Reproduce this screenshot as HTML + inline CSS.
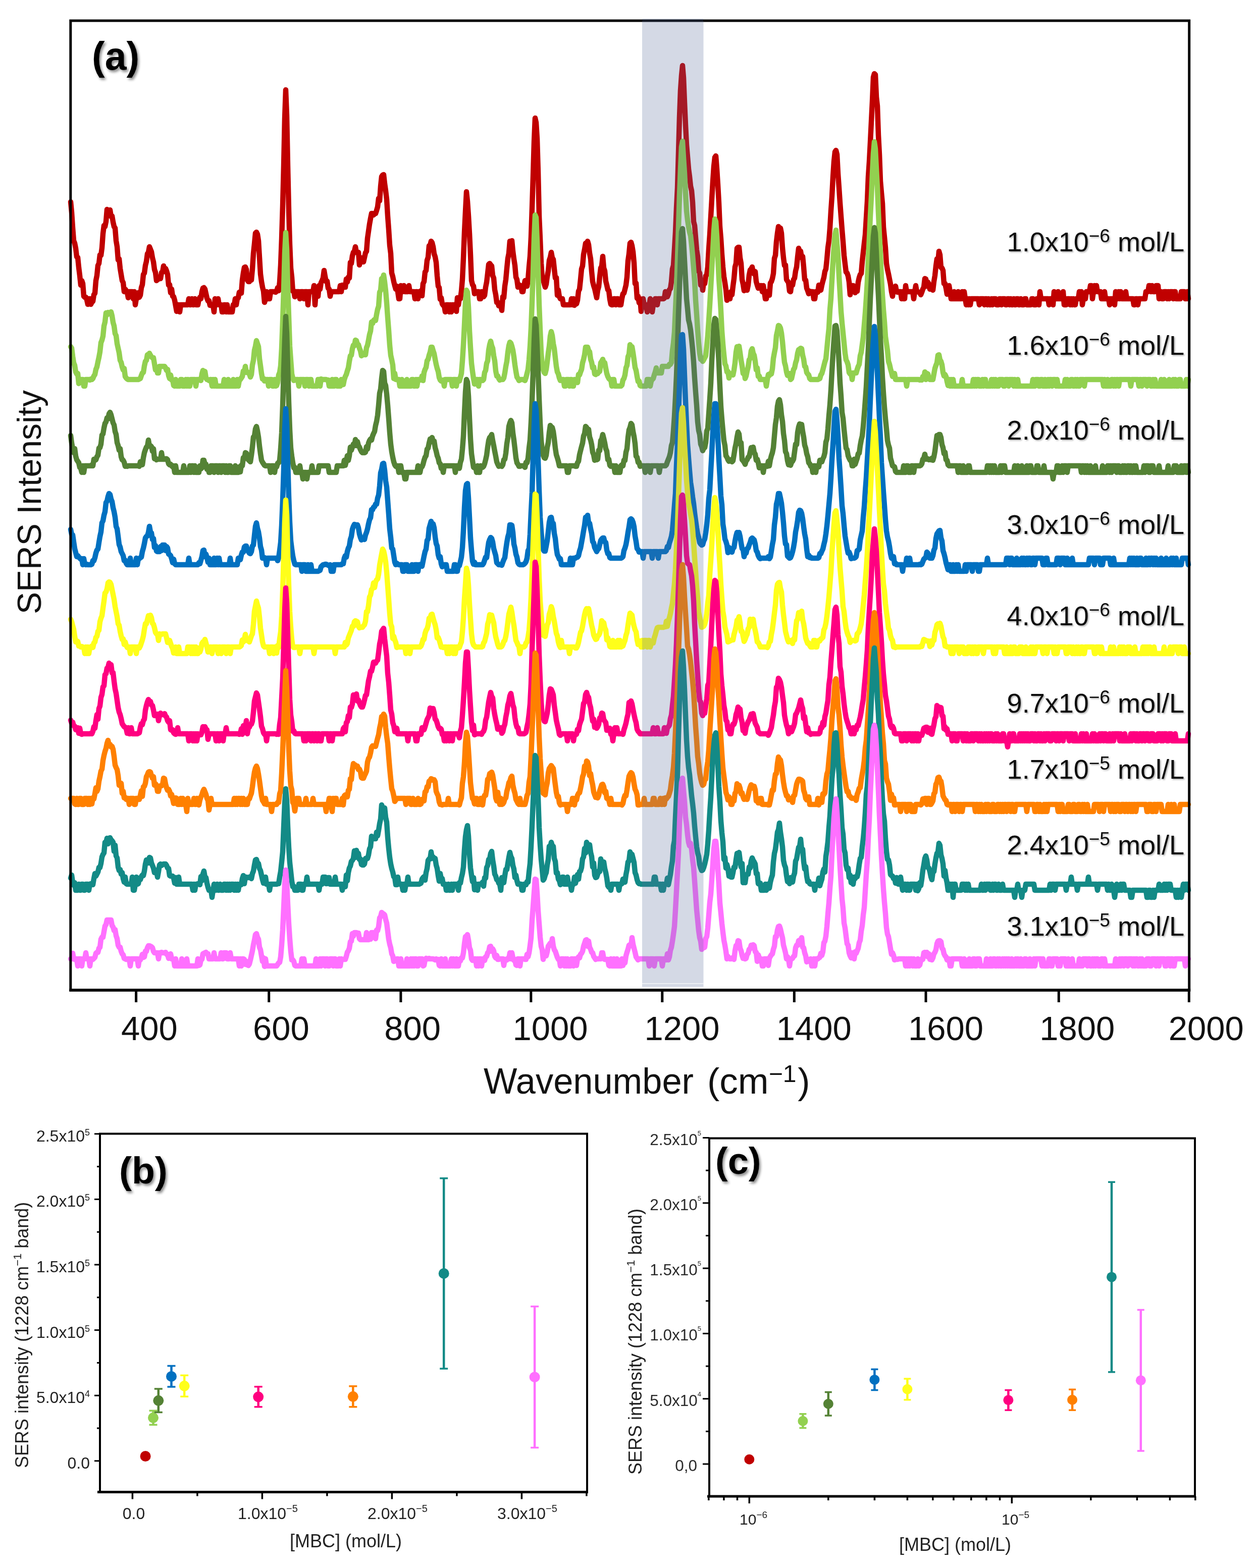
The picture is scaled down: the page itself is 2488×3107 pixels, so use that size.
<!DOCTYPE html>
<html><head><meta charset="utf-8"><title>SERS spectra</title>
<style>html,body{margin:0;padding:0;background:#fff;} svg{display:block;}</style>
</head><body>
<svg width="2488" height="3107" viewBox="0 0 2488 3107" font-family="'Liberation Sans', Arial, Helvetica, sans-serif">
<defs>
<filter id="sh" x="-20%" y="-20%" width="150%" height="150%"><feDropShadow dx="3" dy="4" stdDeviation="2.5" flood-color="#000" flood-opacity="0.45"/></filter>
<filter id="sh2" x="-5%" y="-20%" width="110%" height="150%"><feDropShadow dx="2" dy="2" stdDeviation="1.5" flood-color="#000" flood-opacity="0.3"/></filter>
</defs>
<rect width="2488" height="3107" fill="#fff"/>
<polyline points="140,400 142,421 144,451 146,477 148,482 150,492 152,509 154,510 156,530 158,546 160,565 162,556 164,562 166,587 168,589 170,589 172,594 174,603 176,592 178,592 180,603 182,599 184,597 186,584 188,581 190,556 192,546 194,526 196,522 198,505 200,506 202,491 204,463 206,447 208,449 210,439 212,415 214,417 216,422 218,416 220,429 222,428 224,440 226,449 228,452 230,477 232,489 234,515 236,513 238,532 240,544 242,556 244,560 246,578 248,573 250,576 252,579 254,590 256,578 258,578 260,578 262,578 264,592 266,578 268,604 270,592 272,591 274,580 276,589 278,585 280,570 282,564 284,544 286,541 288,526 290,518 292,503 294,500 296,489 298,494 300,499 302,511 304,519 306,534 308,540 310,556 312,554 314,553 316,550 318,552 320,540 322,539 324,527 326,538 328,532 330,537 332,544 334,565 336,564 338,580 340,573 342,587 344,588 346,595 348,606 350,617 352,604 354,604 356,618 358,604 360,604 362,604 364,604 366,604 368,604 370,604 372,604 374,592 376,604 378,604 380,592 382,604 384,604 386,592 388,604 390,604 392,604 394,593 396,589 398,592 400,578 402,571 404,570 406,573 408,582 410,591 412,596 414,596 416,605 418,604 420,604 422,604 424,618 426,592 428,604 430,604 432,592 434,604 436,604 438,604 440,618 442,618 444,604 446,604 448,618 450,604 452,618 454,618 456,618 458,618 460,618 462,604 464,604 466,592 468,604 470,592 472,590 474,579 476,581 478,581 480,555 482,541 484,530 486,529 488,534 490,555 492,558 494,558 496,550 498,555 500,533 502,502 504,483 506,462 508,460 510,464 512,477 514,510 516,543 518,558 520,569 522,577 524,599 526,593 528,578 530,592 532,592 534,592 536,578 538,578 540,578 542,578 544,578 546,579 548,577 550,570 552,576 554,559 556,525 558,473 560,408 562,329 564,235 566,178 568,229 570,328 572,416 574,484 576,531 578,549 580,577 582,577 584,588 586,578 588,578 590,578 592,578 594,592 596,578 598,578 600,578 602,592 604,578 606,578 608,578 610,604 612,578 614,578 616,578 618,578 620,578 622,566 624,604 626,578 628,579 630,587 632,566 634,573 636,560 638,556 640,551 642,536 644,548 646,558 648,557 650,571 652,573 654,587 656,578 658,578 660,578 662,578 664,578 666,578 668,578 670,578 672,578 674,566 676,578 678,565 680,566 682,569 684,569 686,553 688,559 690,549 692,551 694,520 696,522 698,507 700,500 702,498 704,489 706,500 708,501 710,500 712,525 714,517 716,511 718,516 720,519 722,510 724,501 726,498 728,472 730,458 732,444 734,433 736,423 738,423 740,426 742,423 744,423 746,417 748,410 750,393 752,398 754,369 756,350 758,347 760,346 762,364 764,378 766,395 768,428 770,455 772,486 774,502 776,541 778,548 780,558 782,566 784,573 786,567 788,578 790,592 792,592 794,566 796,578 798,578 800,566 802,578 804,578 806,578 808,578 810,566 812,578 814,578 816,578 818,578 820,578 822,592 824,578 826,578 828,592 830,578 832,578 834,576 836,586 838,562 840,558 842,539 844,536 846,516 848,510 850,487 852,486 854,478 856,481 858,489 860,503 862,509 864,520 866,547 868,567 870,570 872,593 874,590 876,602 878,605 880,606 882,618 884,604 886,604 888,604 890,618 892,604 894,618 896,604 898,604 900,604 902,605 904,617 906,590 908,604 910,590 912,592 914,577 916,553 918,511 920,460 922,419 924,380 926,399 928,428 930,463 932,505 934,556 936,564 938,567 940,582 942,579 944,578 946,578 948,578 950,592 952,592 954,578 956,588 958,588 960,585 962,569 964,559 966,542 968,524 970,522 972,525 974,527 976,546 978,551 980,574 982,584 984,599 986,599 988,606 990,605 992,605 994,615 996,588 998,590 1000,567 1002,554 1004,532 1006,512 1008,502 1010,478 1012,487 1014,477 1016,498 1018,513 1020,526 1022,549 1024,554 1026,569 1028,564 1030,566 1032,566 1034,578 1036,578 1038,566 1040,556 1042,565 1044,567 1046,554 1048,529 1050,508 1052,470 1054,412 1056,349 1058,281 1060,234 1062,243 1064,275 1066,342 1068,429 1070,473 1072,522 1074,550 1076,554 1078,562 1080,569 1082,563 1084,548 1086,537 1088,516 1090,510 1092,500 1094,511 1096,514 1098,533 1100,551 1102,550 1104,585 1106,575 1108,588 1110,592 1112,592 1114,592 1116,604 1118,604 1120,604 1122,604 1124,604 1126,604 1128,604 1130,604 1132,592 1134,604 1136,592 1138,605 1140,601 1142,602 1144,595 1146,577 1148,573 1150,554 1152,533 1154,527 1156,504 1158,494 1160,482 1162,487 1164,478 1166,485 1168,502 1170,513 1172,538 1174,558 1176,566 1178,572 1180,581 1182,590 1184,575 1186,568 1188,548 1190,531 1192,527 1194,508 1196,531 1198,537 1200,557 1202,565 1204,574 1206,576 1208,593 1210,603 1212,604 1214,604 1216,592 1218,592 1220,604 1222,592 1224,592 1226,604 1228,604 1230,604 1232,591 1234,582 1236,581 1238,573 1240,565 1242,549 1244,517 1246,503 1248,482 1250,480 1252,487 1254,499 1256,521 1258,562 1260,561 1262,591 1264,587 1266,600 1268,592 1270,617 1272,604 1274,592 1276,604 1278,604 1280,604 1282,618 1284,604 1286,604 1288,592 1290,604 1292,618 1294,604 1296,604 1298,592 1300,592 1302,604 1304,592 1306,592 1308,592 1310,592 1312,592 1314,592 1316,591 1318,578 1320,579 1322,588 1324,583 1326,574 1328,572 1330,558 1332,533 1334,526 1336,494 1338,460 1340,412 1342,372 1344,303 1346,232 1348,179 1350,150 1352,130 1354,154 1356,203 1358,248 1360,287 1362,311 1364,335 1366,350 1368,369 1370,378 1372,401 1374,439 1376,447 1378,471 1380,495 1382,508 1384,537 1386,541 1388,565 1390,557 1392,575 1394,559 1396,562 1398,547 1400,544 1402,529 1404,494 1406,465 1408,430 1410,395 1412,360 1414,330 1416,312 1418,309 1420,335 1422,366 1424,402 1426,449 1428,473 1430,504 1432,529 1434,548 1436,560 1438,574 1440,595 1442,582 1444,581 1446,592 1448,578 1450,584 1452,567 1454,552 1456,529 1458,522 1460,492 1462,490 1464,490 1466,511 1468,522 1470,554 1472,563 1474,576 1476,564 1478,574 1480,575 1482,565 1484,545 1486,535 1488,533 1490,529 1492,541 1494,543 1496,538 1498,558 1500,565 1502,571 1504,568 1506,566 1508,566 1510,578 1512,566 1514,578 1516,592 1518,592 1520,579 1522,577 1524,585 1526,561 1528,558 1530,552 1532,542 1534,512 1536,506 1538,479 1540,462 1542,449 1544,458 1546,452 1548,462 1550,491 1552,511 1554,526 1556,525 1558,554 1560,557 1562,560 1564,577 1566,578 1568,563 1570,565 1572,554 1574,551 1576,537 1578,529 1580,509 1582,492 1584,498 1586,498 1588,511 1590,508 1592,529 1594,554 1596,555 1598,571 1600,576 1602,582 1604,577 1606,578 1608,578 1610,578 1612,592 1614,592 1616,578 1618,578 1620,579 1622,565 1624,569 1626,575 1628,565 1630,557 1632,550 1634,538 1636,533 1638,514 1640,491 1642,477 1644,452 1646,418 1648,389 1650,351 1652,320 1654,301 1656,298 1658,306 1660,344 1662,372 1664,402 1666,429 1668,455 1670,479 1672,506 1674,523 1676,539 1678,541 1680,547 1682,559 1684,584 1686,566 1688,566 1690,566 1692,578 1694,580 1696,569 1698,577 1700,559 1702,550 1704,544 1706,542 1708,518 1710,500 1712,482 1714,465 1716,432 1718,399 1720,350 1722,320 1724,282 1726,241 1728,201 1730,153 1732,146 1734,148 1736,192 1738,210 1740,268 1742,306 1744,359 1746,382 1748,403 1750,450 1752,470 1754,491 1756,522 1758,534 1760,543 1762,553 1764,563 1766,578 1768,587 1770,573 1772,570 1774,567 1776,578 1778,579 1780,578 1782,578 1784,578 1786,592 1788,578 1790,592 1792,592 1794,566 1796,578 1798,578 1800,578 1802,578 1804,578 1806,578 1808,578 1810,592 1812,578 1814,566 1816,578 1818,578 1820,579 1822,580 1824,584 1826,579 1828,573 1830,569 1832,552 1834,553 1836,567 1838,559 1840,563 1842,573 1844,567 1846,570 1848,575 1850,558 1852,546 1854,527 1856,513 1858,520 1860,498 1862,505 1864,530 1866,531 1868,536 1870,562 1872,562 1874,571 1876,583 1878,577 1880,566 1882,578 1884,592 1886,592 1888,592 1890,578 1892,592 1894,592 1896,592 1898,578 1900,592 1902,592 1904,592 1906,578 1908,592 1910,578 1912,592 1914,604 1916,592 1918,604 1920,592 1922,604 1924,592 1926,592 1928,592 1930,592 1932,592 1934,592 1936,592 1938,592 1940,604 1942,592 1944,592 1946,592 1948,592 1950,604 1952,592 1954,592 1956,604 1958,592 1960,604 1962,604 1964,592 1966,604 1968,592 1970,592 1972,592 1974,604 1976,604 1978,604 1980,592 1982,592 1984,604 1986,592 1988,592 1990,592 1992,604 1994,604 1996,592 1998,592 2000,604 2002,592 2004,604 2006,604 2008,592 2010,604 2012,604 2014,592 2016,592 2018,604 2020,604 2022,592 2024,604 2026,604 2028,604 2030,592 2032,592 2034,604 2036,604 2038,604 2040,604 2042,604 2044,592 2046,592 2048,604 2050,604 2052,604 2054,592 2056,592 2058,604 2060,578 2062,592 2064,592 2066,592 2068,592 2070,592 2072,592 2074,592 2076,592 2078,604 2080,592 2082,592 2084,592 2086,604 2088,578 2090,592 2092,592 2094,592 2096,578 2098,592 2100,592 2102,592 2104,592 2106,578 2108,604 2110,604 2112,604 2114,592 2116,592 2118,592 2120,604 2122,592 2124,604 2126,592 2128,604 2130,604 2132,592 2134,592 2136,592 2138,578 2140,592 2142,578 2144,604 2146,592 2148,592 2150,592 2152,578 2154,578 2156,578 2158,578 2160,566 2162,566 2164,592 2166,578 2168,566 2170,578 2172,566 2174,578 2176,578 2178,578 2180,578 2182,592 2184,592 2186,592 2188,578 2190,592 2192,592 2194,592 2196,592 2198,604 2200,592 2202,592 2204,592 2206,592 2208,604 2210,578 2212,592 2214,592 2216,578 2218,592 2220,578 2222,592 2224,592 2226,592 2228,592 2230,578 2232,592 2234,592 2236,592 2238,592 2240,592 2242,592 2244,592 2246,604 2248,604 2250,592 2252,592 2254,604 2256,592 2258,592 2260,592 2262,592 2264,592 2266,592 2268,592 2270,578 2272,578 2274,578 2276,566 2278,566 2280,578 2282,566 2284,578 2286,578 2288,578 2290,566 2292,566 2294,566 2296,592 2298,578 2300,578 2302,592 2304,592 2306,578 2308,578 2310,578 2312,592 2314,578 2316,592 2318,578 2320,578 2322,578 2324,592 2326,578 2328,578 2330,592 2332,592 2334,592 2336,592 2338,592 2340,578 2342,578 2344,578 2346,578 2348,592 2350,592 2352,578 2354,592" fill="none" stroke="#C00000" stroke-width="10.5" stroke-linejoin="round" stroke-linecap="round"/>
<polyline points="140,687 142,690 144,706 146,719 148,724 150,737 152,741 154,740 156,760 158,752 160,752 162,752 164,752 166,765 168,765 170,752 172,752 174,752 176,752 178,753 180,751 182,752 184,750 186,745 188,742 190,732 192,727 194,717 196,708 198,697 200,679 202,674 204,666 206,646 208,638 210,620 212,624 214,619 216,621 218,622 220,618 222,626 224,639 226,646 228,661 230,665 232,681 234,690 236,699 238,714 240,718 242,727 244,733 246,730 248,746 250,749 252,751 254,752 256,752 258,752 260,752 262,752 264,752 266,752 268,752 270,752 272,752 274,752 276,751 278,750 280,744 282,739 284,738 286,725 288,716 290,714 292,703 294,704 296,700 298,704 300,707 302,709 304,709 306,721 308,733 310,728 312,739 314,739 316,726 318,726 320,726 322,726 324,726 326,726 328,729 330,734 332,732 334,744 336,750 338,743 340,753 342,752 344,764 346,765 348,752 350,765 352,765 354,765 356,765 358,752 360,752 362,765 364,765 366,765 368,752 370,765 372,752 374,765 376,765 378,752 380,752 382,752 384,752 386,752 388,765 390,752 392,752 394,753 396,751 398,754 400,741 402,734 404,739 406,736 408,749 410,752 412,752 414,754 416,752 418,752 420,765 422,752 424,765 426,752 428,765 430,765 432,765 434,765 436,765 438,765 440,765 442,765 444,752 446,765 448,765 450,765 452,752 454,765 456,765 458,765 460,765 462,752 464,765 466,765 468,765 470,752 472,765 474,754 476,752 478,749 480,746 482,735 484,737 486,726 488,738 490,737 492,739 494,741 496,747 498,742 500,723 502,714 504,694 506,686 508,675 510,681 512,687 514,711 516,725 518,740 520,751 522,750 524,755 526,752 528,752 530,752 532,765 534,752 536,752 538,752 540,765 542,765 544,752 546,765 548,764 550,758 552,743 554,738 556,725 558,690 560,636 562,575 564,501 566,461 568,494 570,567 572,627 574,686 576,714 578,741 580,749 582,754 584,753 586,752 588,752 590,752 592,765 594,752 596,752 598,752 600,752 602,752 604,765 606,752 608,752 610,752 612,765 614,752 616,752 618,765 620,765 622,765 624,765 626,765 628,765 630,752 632,752 634,765 636,751 638,752 640,752 642,752 644,752 646,752 648,753 650,753 652,765 654,765 656,765 658,752 660,765 662,765 664,752 666,752 668,765 670,765 672,765 674,765 676,752 678,754 680,762 682,752 684,746 686,742 688,735 690,729 692,716 694,705 696,704 698,691 700,684 702,685 704,674 706,675 708,682 710,683 712,690 714,695 716,705 718,700 720,703 722,702 724,703 726,689 728,684 730,674 732,663 734,656 736,638 738,641 740,635 742,633 744,635 746,623 748,613 750,607 752,579 754,575 756,552 758,554 760,545 762,559 764,576 766,600 768,629 770,655 772,684 774,704 776,713 778,723 780,750 782,740 784,752 786,752 788,752 790,752 792,765 794,765 796,752 798,765 800,765 802,765 804,765 806,752 808,765 810,765 812,765 814,765 816,752 818,752 820,765 822,765 824,752 826,765 828,752 830,752 832,752 834,753 836,745 838,754 840,738 842,732 844,728 846,715 848,712 850,704 852,698 854,688 856,688 858,695 860,701 862,712 864,722 866,730 868,736 870,748 872,753 874,755 876,754 878,753 880,765 882,752 884,752 886,752 888,752 890,752 892,752 894,752 896,765 898,752 900,752 902,752 904,765 906,752 908,752 910,755 912,748 914,740 916,715 918,683 920,644 922,600 924,575 926,579 928,609 930,656 932,689 934,720 936,736 938,750 940,761 942,752 944,752 946,752 948,765 950,752 952,752 954,754 956,754 958,752 960,738 962,734 964,720 966,715 968,694 970,683 972,676 974,685 976,690 978,705 980,715 982,735 984,745 986,745 988,750 990,753 992,752 994,752 996,752 998,749 1000,739 1002,726 1004,716 1006,698 1008,685 1010,678 1012,680 1014,686 1016,694 1018,707 1020,723 1022,736 1024,747 1026,750 1028,754 1030,753 1032,752 1034,752 1036,752 1038,753 1040,754 1042,748 1044,740 1046,732 1048,713 1050,687 1052,650 1054,598 1056,540 1058,473 1060,426 1062,431 1064,478 1066,541 1068,605 1070,654 1072,700 1074,724 1076,732 1078,738 1080,740 1082,732 1084,717 1086,700 1088,686 1090,666 1092,657 1094,665 1096,681 1098,691 1100,709 1102,726 1104,737 1106,741 1108,749 1110,754 1112,753 1114,752 1116,752 1118,765 1120,765 1122,752 1124,752 1126,752 1128,765 1130,752 1132,752 1134,765 1136,765 1138,752 1140,753 1142,754 1144,758 1146,742 1148,743 1150,737 1152,732 1154,719 1156,712 1158,703 1160,688 1162,688 1164,688 1166,695 1168,697 1170,712 1172,718 1174,729 1176,727 1178,741 1180,742 1182,739 1184,740 1186,737 1188,736 1190,719 1192,716 1194,712 1196,719 1198,719 1200,730 1202,740 1204,746 1206,750 1208,752 1210,752 1212,765 1214,752 1216,752 1218,765 1220,765 1222,765 1224,765 1226,765 1228,765 1230,765 1232,763 1234,753 1236,750 1238,743 1240,729 1242,724 1244,707 1246,702 1248,683 1250,690 1252,687 1254,699 1256,713 1258,728 1260,734 1262,746 1264,756 1266,755 1268,764 1270,765 1272,765 1274,765 1276,765 1278,765 1280,765 1282,752 1284,752 1286,752 1288,765 1290,755 1292,752 1294,750 1296,743 1298,737 1300,729 1302,739 1304,739 1306,739 1308,739 1310,739 1312,726 1314,726 1316,726 1318,726 1320,726 1322,726 1324,726 1326,722 1328,722 1330,718 1332,695 1334,680 1336,658 1338,614 1340,571 1342,514 1344,451 1346,387 1348,336 1350,291 1352,280 1354,313 1356,343 1358,383 1360,418 1362,436 1364,449 1366,460 1368,467 1370,485 1372,506 1374,531 1376,557 1378,595 1380,623 1382,654 1384,679 1386,700 1388,712 1390,709 1392,716 1394,713 1396,709 1398,705 1400,686 1402,665 1404,636 1406,604 1408,569 1410,532 1412,496 1414,458 1416,434 1418,439 1420,468 1422,509 1424,551 1426,581 1428,616 1430,656 1432,682 1434,703 1436,721 1438,725 1440,737 1442,736 1444,749 1446,740 1448,741 1450,740 1452,743 1454,733 1456,719 1458,698 1460,687 1462,688 1464,686 1466,699 1468,714 1470,725 1472,740 1474,735 1476,750 1478,745 1480,735 1482,727 1484,713 1486,710 1488,695 1490,691 1492,700 1494,704 1496,716 1498,733 1500,729 1502,746 1504,745 1506,752 1508,752 1510,752 1512,752 1514,752 1516,752 1518,765 1520,752 1522,742 1524,744 1526,740 1528,741 1530,731 1532,710 1534,699 1536,689 1538,665 1540,656 1542,645 1544,646 1546,650 1548,660 1550,677 1552,699 1554,718 1556,725 1558,737 1560,744 1562,742 1564,740 1566,752 1568,750 1570,741 1572,732 1574,729 1576,719 1578,713 1580,700 1582,693 1584,692 1586,690 1588,691 1590,704 1592,712 1594,726 1596,727 1598,738 1600,741 1602,743 1604,750 1606,752 1608,752 1610,752 1612,752 1614,752 1616,752 1618,752 1620,752 1622,751 1624,750 1626,743 1628,740 1630,733 1632,725 1634,717 1636,711 1638,691 1640,670 1642,651 1644,614 1646,591 1648,555 1650,519 1652,489 1654,465 1656,456 1658,482 1660,506 1662,547 1664,581 1666,617 1668,640 1670,660 1672,680 1674,700 1676,713 1678,717 1680,723 1682,738 1684,741 1686,739 1688,752 1690,739 1692,739 1694,739 1696,739 1698,732 1700,726 1702,722 1704,705 1706,698 1708,683 1710,668 1712,644 1714,620 1716,591 1718,558 1720,512 1722,472 1724,428 1726,390 1728,344 1730,304 1732,281 1734,295 1736,335 1738,372 1740,421 1742,465 1744,504 1746,551 1748,585 1750,614 1752,638 1754,667 1756,681 1758,695 1760,716 1762,722 1764,731 1766,738 1768,746 1770,741 1772,740 1774,752 1776,752 1778,752 1780,752 1782,752 1784,752 1786,752 1788,752 1790,752 1792,752 1794,752 1796,765 1798,752 1800,752 1802,752 1804,752 1806,752 1808,752 1810,752 1812,752 1814,752 1816,752 1818,752 1820,752 1822,753 1824,752 1826,753 1828,746 1830,749 1832,737 1834,752 1836,740 1838,741 1840,750 1842,752 1844,752 1846,750 1848,752 1850,741 1852,730 1854,724 1856,719 1858,704 1860,703 1862,713 1864,716 1866,723 1868,738 1870,745 1872,742 1874,746 1876,756 1878,764 1880,752 1882,765 1884,752 1886,765 1888,752 1890,765 1892,765 1894,765 1896,765 1898,765 1900,765 1902,765 1904,765 1906,752 1908,765 1910,765 1912,765 1914,765 1916,765 1918,765 1920,765 1922,765 1924,765 1926,765 1928,752 1930,765 1932,752 1934,765 1936,752 1938,752 1940,765 1942,765 1944,765 1946,752 1948,765 1950,752 1952,752 1954,765 1956,765 1958,765 1960,765 1962,765 1964,752 1966,765 1968,752 1970,765 1972,752 1974,765 1976,765 1978,765 1980,752 1982,752 1984,752 1986,752 1988,765 1990,765 1992,752 1994,752 1996,752 1998,765 2000,752 2002,752 2004,752 2006,752 2008,765 2010,752 2012,765 2014,765 2016,752 2018,765 2020,765 2022,765 2024,765 2026,765 2028,765 2030,765 2032,765 2034,765 2036,765 2038,765 2040,765 2042,765 2044,765 2046,752 2048,765 2050,765 2052,752 2054,752 2056,752 2058,765 2060,765 2062,752 2064,752 2066,765 2068,765 2070,752 2072,765 2074,765 2076,752 2078,765 2080,752 2082,752 2084,765 2086,752 2088,752 2090,752 2092,765 2094,752 2096,765 2098,765 2100,765 2102,765 2104,765 2106,765 2108,765 2110,752 2112,765 2114,752 2116,765 2118,765 2120,765 2122,752 2124,752 2126,765 2128,765 2130,752 2132,765 2134,752 2136,765 2138,765 2140,752 2142,752 2144,752 2146,752 2148,765 2150,752 2152,752 2154,752 2156,752 2158,752 2160,752 2162,752 2164,752 2166,752 2168,752 2170,752 2172,752 2174,752 2176,752 2178,752 2180,752 2182,752 2184,752 2186,765 2188,752 2190,765 2192,765 2194,752 2196,765 2198,765 2200,765 2202,752 2204,752 2206,765 2208,752 2210,765 2212,752 2214,752 2216,765 2218,752 2220,752 2222,752 2224,752 2226,752 2228,752 2230,752 2232,752 2234,752 2236,752 2238,752 2240,765 2242,752 2244,752 2246,752 2248,752 2250,752 2252,752 2254,752 2256,765 2258,752 2260,752 2262,765 2264,752 2266,752 2268,752 2270,752 2272,765 2274,752 2276,752 2278,752 2280,765 2282,765 2284,752 2286,765 2288,752 2290,765 2292,765 2294,765 2296,765 2298,765 2300,752 2302,765 2304,765 2306,752 2308,765 2310,765 2312,765 2314,765 2316,752 2318,765 2320,765 2322,765 2324,752 2326,765 2328,752 2330,765 2332,765 2334,765 2336,752 2338,752 2340,765 2342,765 2344,765 2346,765 2348,765 2350,752 2352,765 2354,752" fill="none" stroke="#92D050" stroke-width="10.5" stroke-linejoin="round" stroke-linecap="round"/>
<polyline points="140,863 142,878 144,889 146,897 148,889 150,904 152,911 154,914 156,917 158,926 160,928 162,936 164,923 166,936 168,923 170,923 172,923 174,923 176,923 178,923 180,923 182,921 184,923 186,910 188,912 190,911 192,905 194,902 196,888 198,887 200,880 202,862 204,860 206,848 208,839 210,836 212,828 214,830 216,820 218,817 220,822 222,830 224,838 226,842 228,855 230,861 232,877 234,883 236,892 238,889 240,905 242,911 244,912 246,916 248,924 250,923 252,924 254,923 256,923 258,923 260,923 262,923 264,923 266,923 268,923 270,923 272,923 274,923 276,924 278,915 280,916 282,921 284,907 286,897 288,891 290,886 292,884 294,872 296,884 298,883 300,885 302,894 304,889 306,909 308,908 310,911 312,910 314,910 316,910 318,910 320,897 322,910 324,910 326,910 328,909 330,909 332,911 334,919 336,921 338,920 340,923 342,925 344,923 346,936 348,923 350,936 352,936 354,936 356,936 358,936 360,936 362,936 364,923 366,936 368,936 370,936 372,936 374,936 376,923 378,936 380,923 382,923 384,936 386,923 388,936 390,936 392,936 394,936 396,923 398,929 400,927 402,912 404,912 406,920 408,920 410,930 412,926 414,936 416,936 418,923 420,923 422,923 424,936 426,923 428,923 430,923 432,936 434,923 436,923 438,936 440,923 442,923 444,923 446,936 448,923 450,936 452,936 454,923 456,923 458,936 460,936 462,936 464,936 466,923 468,936 470,936 472,936 474,925 476,935 478,922 480,923 482,907 484,909 486,897 488,898 490,902 492,911 494,913 496,915 498,902 500,886 502,866 504,864 506,850 508,845 510,854 512,866 514,884 516,899 518,912 520,916 522,919 524,922 526,923 528,923 530,923 532,923 534,923 536,936 538,923 540,923 542,923 544,936 546,923 548,925 550,918 552,917 554,912 556,889 558,858 560,805 562,736 564,676 566,627 568,661 570,728 572,797 574,851 576,888 578,904 580,917 582,927 584,926 586,936 588,936 590,936 592,936 594,923 596,936 598,936 600,949 602,936 604,936 606,936 608,949 610,936 612,936 614,936 616,936 618,923 620,936 622,936 624,936 626,936 628,936 630,936 632,923 634,923 636,923 638,923 640,923 642,923 644,923 646,923 648,923 650,923 652,936 654,936 656,936 658,936 660,936 662,936 664,936 666,936 668,923 670,923 672,923 674,923 676,923 678,923 680,923 682,912 684,922 686,914 688,903 690,912 692,903 694,886 696,892 698,886 700,880 702,883 704,871 706,883 708,875 710,883 712,886 714,891 716,895 718,897 720,897 722,897 724,896 726,885 728,890 730,878 732,873 734,870 736,872 738,864 740,859 742,855 744,843 746,835 748,823 750,803 752,779 754,771 756,750 758,734 760,736 762,759 764,764 766,781 768,803 770,829 772,857 774,880 776,895 778,906 780,915 782,921 784,924 786,925 788,923 790,936 792,923 794,923 796,936 798,936 800,936 802,949 804,949 806,936 808,936 810,936 812,936 814,936 816,936 818,936 820,936 822,936 824,936 826,936 828,923 830,936 832,936 834,926 836,925 838,920 840,912 842,906 844,903 846,890 848,888 850,878 852,870 854,870 856,867 858,876 860,874 862,887 864,894 866,903 868,908 870,917 872,919 874,928 876,925 878,936 880,923 882,923 884,923 886,923 888,923 890,923 892,923 894,923 896,923 898,923 900,923 902,936 904,923 906,923 908,924 910,928 912,916 914,910 916,890 918,864 920,818 922,777 924,752 926,757 928,785 930,829 932,870 934,899 936,913 938,926 940,927 942,924 944,936 946,923 948,936 950,936 952,923 954,924 956,926 958,924 960,919 962,911 964,902 966,886 968,873 970,867 972,865 974,861 976,873 978,883 980,894 982,904 984,915 986,920 988,924 990,923 992,923 994,924 996,921 998,911 1000,910 1002,898 1004,879 1006,867 1008,845 1010,838 1012,833 1014,838 1016,858 1018,872 1020,889 1022,907 1024,917 1026,920 1028,924 1030,924 1032,923 1034,923 1036,923 1038,923 1040,926 1042,916 1044,917 1046,908 1048,888 1050,872 1052,837 1054,793 1056,738 1058,677 1060,632 1062,644 1064,687 1066,738 1068,792 1070,839 1072,873 1074,892 1076,902 1078,907 1080,908 1082,902 1084,886 1086,877 1088,857 1090,843 1092,846 1094,847 1096,855 1098,870 1100,888 1102,901 1104,907 1106,914 1108,923 1110,923 1112,923 1114,923 1116,923 1118,923 1120,923 1122,923 1124,936 1126,936 1128,923 1130,923 1132,923 1134,923 1136,923 1138,923 1140,924 1142,924 1144,917 1146,914 1148,901 1150,893 1152,885 1154,878 1156,864 1158,859 1160,845 1162,847 1164,851 1166,851 1168,866 1170,872 1172,881 1174,896 1176,901 1178,912 1180,907 1182,911 1184,910 1186,892 1188,893 1190,873 1192,870 1194,861 1196,869 1198,878 1200,889 1202,894 1204,911 1206,910 1208,922 1210,924 1212,923 1214,923 1216,923 1218,936 1220,923 1222,936 1224,936 1226,936 1228,936 1230,923 1232,921 1234,923 1236,912 1238,912 1240,896 1242,889 1244,867 1246,852 1248,847 1250,839 1252,842 1254,855 1256,865 1258,879 1260,904 1262,906 1264,916 1266,916 1268,924 1270,923 1272,923 1274,923 1276,923 1278,936 1280,923 1282,923 1284,923 1286,923 1288,936 1290,923 1292,923 1294,923 1296,923 1298,923 1300,923 1302,923 1304,923 1306,936 1308,923 1310,923 1312,923 1314,923 1316,923 1318,923 1320,921 1322,915 1324,910 1326,905 1328,897 1330,883 1332,877 1334,854 1336,825 1338,788 1340,745 1342,692 1344,624 1346,570 1348,507 1350,460 1352,453 1354,478 1356,517 1358,554 1360,592 1362,612 1364,634 1366,642 1368,654 1370,672 1372,692 1374,717 1376,749 1378,777 1380,803 1382,836 1384,853 1386,861 1388,880 1390,885 1392,893 1394,888 1396,887 1398,877 1400,854 1402,849 1404,820 1406,791 1408,760 1410,715 1412,680 1414,644 1416,631 1418,633 1420,658 1422,682 1424,719 1426,765 1428,806 1430,831 1432,853 1434,873 1436,883 1438,903 1440,906 1442,911 1444,914 1446,911 1448,911 1450,915 1452,913 1454,901 1456,888 1458,879 1460,866 1462,856 1464,860 1466,880 1468,877 1470,911 1472,913 1474,916 1476,920 1478,913 1480,911 1482,906 1484,905 1486,896 1488,887 1490,894 1492,886 1494,897 1496,900 1498,912 1500,910 1502,917 1504,927 1506,923 1508,923 1510,923 1512,936 1514,923 1516,923 1518,923 1520,924 1522,914 1524,923 1526,911 1528,903 1530,897 1532,887 1534,864 1536,841 1538,828 1540,805 1542,795 1544,792 1546,802 1548,822 1550,835 1552,859 1554,873 1556,895 1558,899 1560,913 1562,921 1564,911 1566,922 1568,916 1570,914 1572,910 1574,895 1576,880 1578,881 1580,857 1582,846 1584,840 1586,843 1588,841 1590,855 1592,866 1594,882 1596,888 1598,899 1600,905 1602,917 1604,919 1606,924 1608,923 1610,936 1612,923 1614,923 1616,936 1618,923 1620,924 1622,925 1624,912 1626,915 1628,915 1630,909 1632,905 1634,897 1636,876 1638,870 1640,850 1642,824 1644,802 1646,773 1648,736 1650,702 1652,673 1654,646 1656,645 1658,656 1660,685 1662,718 1664,758 1666,785 1668,817 1670,829 1672,851 1674,870 1676,888 1678,891 1680,903 1682,908 1684,912 1686,912 1688,923 1690,923 1692,910 1694,920 1696,914 1698,908 1700,899 1702,898 1704,883 1706,872 1708,864 1710,845 1712,821 1714,794 1716,766 1718,728 1720,691 1722,640 1724,592 1726,553 1728,509 1730,468 1732,451 1734,462 1736,502 1738,548 1740,585 1742,631 1744,673 1746,706 1748,748 1750,779 1752,807 1754,830 1756,850 1758,873 1760,882 1762,888 1764,908 1766,915 1768,923 1770,924 1772,925 1774,934 1776,936 1778,936 1780,936 1782,936 1784,936 1786,936 1788,936 1790,923 1792,936 1794,936 1796,923 1798,923 1800,936 1802,936 1804,936 1806,923 1808,923 1810,936 1812,923 1814,923 1816,923 1818,923 1820,923 1822,923 1824,922 1826,919 1828,910 1830,908 1832,900 1834,910 1836,909 1838,909 1840,911 1842,910 1844,911 1846,908 1848,912 1850,905 1852,894 1854,878 1856,863 1858,868 1860,861 1862,861 1864,867 1866,881 1868,887 1870,899 1872,896 1874,911 1876,912 1878,921 1880,923 1882,923 1884,923 1886,923 1888,923 1890,923 1892,923 1894,923 1896,923 1898,936 1900,923 1902,923 1904,936 1906,936 1908,923 1910,936 1912,936 1914,936 1916,936 1918,923 1920,923 1922,936 1924,936 1926,936 1928,936 1930,936 1932,936 1934,936 1936,936 1938,936 1940,936 1942,936 1944,936 1946,936 1948,936 1950,936 1952,936 1954,936 1956,923 1958,923 1960,936 1962,923 1964,936 1966,923 1968,936 1970,923 1972,936 1974,936 1976,936 1978,936 1980,936 1982,923 1984,936 1986,923 1988,923 1990,923 1992,936 1994,936 1996,936 1998,936 2000,936 2002,936 2004,936 2006,936 2008,936 2010,923 2012,936 2014,936 2016,923 2018,936 2020,936 2022,936 2024,923 2026,936 2028,936 2030,936 2032,936 2034,923 2036,936 2038,936 2040,923 2042,923 2044,936 2046,936 2048,936 2050,936 2052,936 2054,923 2056,923 2058,936 2060,936 2062,936 2064,936 2066,936 2068,923 2070,936 2072,936 2074,936 2076,936 2078,936 2080,936 2082,936 2084,936 2086,949 2088,936 2090,936 2092,936 2094,923 2096,923 2098,936 2100,936 2102,936 2104,923 2106,936 2108,923 2110,923 2112,923 2114,936 2116,923 2118,923 2120,923 2122,923 2124,923 2126,923 2128,923 2130,923 2132,923 2134,923 2136,923 2138,923 2140,923 2142,936 2144,923 2146,923 2148,936 2150,923 2152,936 2154,923 2156,936 2158,936 2160,923 2162,936 2164,936 2166,936 2168,936 2170,923 2172,936 2174,936 2176,936 2178,936 2180,936 2182,936 2184,923 2186,936 2188,936 2190,936 2192,936 2194,923 2196,923 2198,936 2200,923 2202,936 2204,923 2206,923 2208,923 2210,923 2212,936 2214,923 2216,923 2218,936 2220,936 2222,936 2224,923 2226,936 2228,923 2230,936 2232,936 2234,923 2236,923 2238,936 2240,923 2242,936 2244,936 2246,923 2248,936 2250,923 2252,936 2254,936 2256,936 2258,936 2260,936 2262,936 2264,936 2266,923 2268,936 2270,923 2272,923 2274,923 2276,936 2278,936 2280,923 2282,923 2284,923 2286,936 2288,936 2290,936 2292,936 2294,936 2296,923 2298,936 2300,936 2302,936 2304,936 2306,936 2308,936 2310,936 2312,936 2314,923 2316,936 2318,936 2320,936 2322,936 2324,936 2326,923 2328,923 2330,923 2332,936 2334,936 2336,936 2338,936 2340,923 2342,936 2344,936 2346,923 2348,923 2350,936 2352,923 2354,936" fill="none" stroke="#548235" stroke-width="10.5" stroke-linejoin="round" stroke-linecap="round"/>
<polyline points="140,1049 142,1059 144,1060 146,1074 148,1087 150,1095 152,1103 154,1101 156,1104 158,1106 160,1108 162,1107 164,1119 166,1107 168,1118 170,1119 172,1118 174,1119 176,1119 178,1119 180,1119 182,1118 184,1111 186,1111 188,1105 190,1096 192,1090 194,1088 196,1075 198,1063 200,1054 202,1036 204,1032 206,1021 208,1014 210,996 212,993 214,984 216,978 218,980 220,989 222,994 224,1006 226,1014 228,1025 230,1043 232,1048 234,1063 236,1079 238,1084 240,1093 242,1097 244,1101 246,1111 248,1110 250,1116 252,1119 254,1119 256,1119 258,1106 260,1119 262,1119 264,1119 266,1119 268,1119 270,1106 272,1119 274,1107 276,1107 278,1105 280,1104 282,1093 284,1086 286,1077 288,1066 290,1063 292,1062 294,1055 296,1043 298,1054 300,1056 302,1069 304,1067 306,1085 308,1081 310,1092 312,1093 314,1093 316,1093 318,1083 320,1091 322,1080 324,1080 326,1080 328,1091 330,1083 332,1086 334,1098 336,1099 338,1101 340,1107 342,1115 344,1108 346,1117 348,1119 350,1119 352,1119 354,1119 356,1119 358,1119 360,1119 362,1119 364,1119 366,1119 368,1119 370,1119 372,1119 374,1106 376,1119 378,1119 380,1119 382,1119 384,1119 386,1119 388,1119 390,1119 392,1119 394,1115 396,1117 398,1110 400,1103 402,1091 404,1090 406,1103 408,1098 410,1105 412,1114 414,1106 416,1119 418,1119 420,1119 422,1119 424,1106 426,1119 428,1119 430,1106 432,1119 434,1106 436,1119 438,1119 440,1119 442,1119 444,1119 446,1119 448,1119 450,1119 452,1119 454,1119 456,1106 458,1119 460,1119 462,1119 464,1119 466,1119 468,1119 470,1119 472,1106 474,1108 476,1109 478,1100 480,1094 482,1094 484,1084 486,1082 488,1082 490,1089 492,1093 494,1096 496,1097 498,1093 500,1082 502,1080 504,1061 506,1043 508,1036 510,1047 512,1054 514,1066 516,1083 518,1090 520,1106 522,1105 524,1105 526,1106 528,1119 530,1106 532,1106 534,1106 536,1106 538,1106 540,1106 542,1106 544,1106 546,1106 548,1106 550,1111 552,1105 554,1091 556,1075 558,1041 560,992 562,931 564,850 566,810 568,843 570,914 572,983 574,1035 576,1072 578,1088 580,1102 582,1111 584,1118 586,1119 588,1119 590,1119 592,1119 594,1119 596,1119 598,1132 600,1119 602,1119 604,1119 606,1132 608,1132 610,1119 612,1132 614,1132 616,1119 618,1132 620,1132 622,1132 624,1132 626,1132 628,1132 630,1132 632,1131 634,1130 636,1123 638,1121 640,1119 642,1119 644,1118 646,1118 648,1119 650,1120 652,1121 654,1119 656,1132 658,1132 660,1132 662,1119 664,1119 666,1119 668,1119 670,1119 672,1119 674,1119 676,1119 678,1117 680,1117 682,1106 684,1101 686,1104 688,1093 690,1086 692,1082 694,1069 696,1063 698,1049 700,1043 702,1039 704,1040 706,1040 708,1040 710,1046 712,1058 714,1065 716,1070 718,1066 720,1066 722,1069 724,1060 726,1055 728,1048 730,1038 732,1030 734,1026 736,1010 738,1010 740,1005 742,1004 744,999 746,999 748,987 750,981 752,963 754,937 756,930 758,919 760,918 762,932 764,953 766,965 768,992 770,1019 772,1048 774,1065 776,1086 778,1088 780,1101 782,1114 784,1119 786,1116 788,1118 790,1119 792,1119 794,1119 796,1119 798,1132 800,1132 802,1119 804,1119 806,1119 808,1132 810,1132 812,1132 814,1132 816,1119 818,1132 820,1132 822,1119 824,1119 826,1119 828,1132 830,1119 832,1120 834,1118 836,1122 838,1112 840,1102 842,1093 844,1088 846,1071 848,1068 850,1047 852,1040 854,1033 856,1041 858,1038 860,1046 862,1064 864,1077 866,1082 868,1099 870,1106 872,1103 874,1117 876,1123 878,1120 880,1119 882,1119 884,1119 886,1132 888,1132 890,1132 892,1132 894,1132 896,1132 898,1132 900,1119 902,1119 904,1132 906,1132 908,1120 910,1121 912,1113 914,1104 916,1085 918,1051 920,1006 922,972 924,960 926,958 928,987 930,1026 932,1066 934,1091 936,1112 938,1118 940,1114 942,1119 944,1119 946,1119 948,1119 950,1119 952,1119 954,1119 956,1119 958,1116 960,1110 962,1104 964,1105 966,1089 968,1075 970,1069 972,1065 974,1067 976,1074 978,1087 980,1094 982,1101 984,1115 986,1117 988,1119 990,1119 992,1119 994,1120 996,1114 998,1109 1000,1105 1002,1089 1004,1075 1006,1064 1008,1057 1010,1040 1012,1040 1014,1041 1016,1055 1018,1078 1020,1086 1022,1098 1024,1104 1026,1115 1028,1118 1030,1119 1032,1119 1034,1119 1036,1119 1038,1118 1040,1116 1042,1113 1044,1106 1046,1091 1048,1087 1050,1059 1052,1015 1054,976 1056,906 1058,843 1060,800 1062,813 1064,856 1066,914 1068,973 1070,1025 1072,1053 1074,1078 1076,1089 1078,1092 1080,1092 1082,1082 1084,1071 1086,1054 1088,1035 1090,1026 1092,1025 1094,1036 1096,1037 1098,1057 1100,1067 1102,1086 1104,1099 1106,1103 1108,1108 1110,1107 1112,1119 1114,1119 1116,1119 1118,1119 1120,1119 1122,1119 1124,1119 1126,1119 1128,1119 1130,1106 1132,1119 1134,1119 1136,1106 1138,1106 1140,1106 1142,1104 1144,1104 1146,1101 1148,1092 1150,1086 1152,1075 1154,1064 1156,1052 1158,1041 1160,1025 1162,1028 1164,1021 1166,1036 1168,1037 1170,1048 1172,1057 1174,1073 1176,1076 1178,1085 1180,1089 1182,1093 1184,1089 1186,1087 1188,1079 1190,1071 1192,1068 1194,1066 1196,1066 1198,1074 1200,1075 1202,1090 1204,1097 1206,1097 1208,1105 1210,1106 1212,1106 1214,1106 1216,1106 1218,1106 1220,1106 1222,1106 1224,1106 1226,1106 1228,1106 1230,1106 1232,1105 1234,1103 1236,1091 1238,1086 1240,1079 1242,1068 1244,1055 1246,1044 1248,1030 1250,1028 1252,1030 1254,1035 1256,1044 1258,1062 1260,1073 1262,1087 1264,1089 1266,1094 1268,1093 1270,1093 1272,1093 1274,1106 1276,1093 1278,1093 1280,1093 1282,1093 1284,1093 1286,1093 1288,1093 1290,1093 1292,1106 1294,1093 1296,1093 1298,1093 1300,1093 1302,1093 1304,1106 1306,1093 1308,1093 1310,1093 1312,1093 1314,1093 1316,1093 1318,1093 1320,1091 1322,1083 1324,1085 1326,1076 1328,1070 1330,1063 1332,1051 1334,1027 1336,1002 1338,978 1340,923 1342,879 1344,819 1346,766 1348,703 1350,664 1352,663 1354,692 1356,745 1358,795 1360,841 1362,881 1364,908 1366,933 1368,956 1370,969 1372,985 1374,998 1376,1017 1378,1032 1380,1046 1382,1058 1384,1065 1386,1075 1388,1078 1390,1080 1392,1079 1394,1072 1396,1068 1398,1056 1400,1040 1402,1020 1404,988 1406,971 1408,933 1410,898 1412,855 1414,824 1416,800 1418,800 1420,834 1422,868 1424,910 1426,945 1428,983 1430,1000 1432,1038 1434,1051 1436,1068 1438,1073 1440,1080 1442,1095 1444,1085 1446,1093 1448,1093 1450,1094 1452,1086 1454,1085 1456,1072 1458,1062 1460,1055 1462,1056 1464,1055 1466,1063 1468,1076 1470,1087 1472,1089 1474,1103 1476,1095 1478,1096 1480,1087 1482,1086 1484,1080 1486,1075 1488,1068 1490,1066 1492,1068 1494,1070 1496,1078 1498,1091 1500,1094 1502,1101 1504,1105 1506,1107 1508,1106 1510,1106 1512,1106 1514,1106 1516,1106 1518,1106 1520,1106 1522,1103 1524,1107 1526,1104 1528,1092 1530,1079 1532,1069 1534,1040 1536,1025 1538,999 1540,991 1542,978 1544,978 1546,987 1548,997 1550,1015 1552,1036 1554,1062 1556,1078 1558,1079 1560,1102 1562,1104 1564,1106 1566,1105 1568,1100 1570,1093 1572,1084 1574,1072 1576,1054 1578,1044 1580,1031 1582,1015 1584,1011 1586,1012 1588,1017 1590,1028 1592,1044 1594,1058 1596,1068 1598,1088 1600,1103 1602,1100 1604,1105 1606,1104 1608,1106 1610,1106 1612,1106 1614,1106 1616,1106 1618,1106 1620,1106 1622,1105 1624,1097 1626,1097 1628,1092 1630,1088 1632,1079 1634,1071 1636,1058 1638,1042 1640,1022 1642,1000 1644,978 1646,947 1648,911 1650,881 1652,847 1654,815 1656,811 1658,833 1660,865 1662,908 1664,936 1666,967 1668,1002 1670,1018 1672,1041 1674,1062 1676,1074 1678,1086 1680,1096 1682,1094 1684,1099 1686,1107 1688,1106 1690,1106 1692,1106 1694,1105 1696,1103 1698,1091 1700,1090 1702,1088 1704,1070 1706,1061 1708,1052 1710,1025 1712,1004 1714,973 1716,947 1718,912 1720,879 1722,840 1724,792 1726,748 1728,701 1730,674 1732,647 1734,664 1736,705 1738,739 1740,784 1742,828 1744,867 1746,917 1748,946 1750,975 1752,1002 1754,1030 1756,1052 1758,1064 1760,1072 1762,1083 1764,1097 1766,1106 1768,1107 1770,1103 1772,1117 1774,1116 1776,1119 1778,1119 1780,1119 1782,1119 1784,1119 1786,1119 1788,1132 1790,1119 1792,1119 1794,1119 1796,1106 1798,1119 1800,1119 1802,1106 1804,1119 1806,1119 1808,1119 1810,1119 1812,1119 1814,1119 1816,1119 1818,1119 1820,1119 1822,1118 1824,1119 1826,1118 1828,1113 1830,1108 1832,1106 1834,1105 1836,1094 1838,1096 1840,1104 1842,1106 1844,1106 1846,1106 1848,1101 1850,1090 1852,1086 1854,1067 1856,1058 1858,1055 1860,1052 1862,1051 1864,1066 1866,1072 1868,1091 1870,1097 1872,1105 1874,1115 1876,1122 1878,1129 1880,1119 1882,1119 1884,1132 1886,1132 1888,1119 1890,1132 1892,1132 1894,1119 1896,1132 1898,1119 1900,1132 1902,1132 1904,1132 1906,1132 1908,1132 1910,1132 1912,1119 1914,1132 1916,1119 1918,1119 1920,1119 1922,1119 1924,1119 1926,1132 1928,1119 1930,1119 1932,1119 1934,1119 1936,1119 1938,1132 1940,1132 1942,1119 1944,1119 1946,1119 1948,1119 1950,1119 1952,1119 1954,1119 1956,1106 1958,1119 1960,1119 1962,1119 1964,1119 1966,1119 1968,1119 1970,1119 1972,1119 1974,1119 1976,1119 1978,1119 1980,1119 1982,1119 1984,1119 1986,1119 1988,1119 1990,1119 1992,1119 1994,1106 1996,1106 1998,1106 2000,1119 2002,1106 2004,1106 2006,1119 2008,1119 2010,1119 2012,1119 2014,1106 2016,1119 2018,1119 2020,1119 2022,1119 2024,1106 2026,1119 2028,1106 2030,1119 2032,1119 2034,1106 2036,1119 2038,1106 2040,1106 2042,1119 2044,1119 2046,1106 2048,1106 2050,1119 2052,1106 2054,1106 2056,1106 2058,1106 2060,1106 2062,1106 2064,1106 2066,1119 2068,1119 2070,1119 2072,1106 2074,1106 2076,1119 2078,1119 2080,1119 2082,1119 2084,1119 2086,1119 2088,1119 2090,1119 2092,1119 2094,1106 2096,1106 2098,1106 2100,1119 2102,1106 2104,1106 2106,1106 2108,1106 2110,1119 2112,1119 2114,1106 2116,1119 2118,1119 2120,1119 2122,1119 2124,1106 2126,1119 2128,1119 2130,1119 2132,1119 2134,1119 2136,1119 2138,1119 2140,1119 2142,1119 2144,1119 2146,1119 2148,1119 2150,1119 2152,1119 2154,1119 2156,1119 2158,1106 2160,1106 2162,1106 2164,1106 2166,1106 2168,1119 2170,1106 2172,1106 2174,1106 2176,1106 2178,1106 2180,1119 2182,1119 2184,1119 2186,1106 2188,1106 2190,1106 2192,1106 2194,1106 2196,1106 2198,1106 2200,1119 2202,1119 2204,1119 2206,1106 2208,1119 2210,1119 2212,1119 2214,1119 2216,1119 2218,1119 2220,1119 2222,1119 2224,1119 2226,1119 2228,1119 2230,1119 2232,1119 2234,1119 2236,1119 2238,1106 2240,1119 2242,1106 2244,1119 2246,1106 2248,1119 2250,1119 2252,1106 2254,1119 2256,1119 2258,1106 2260,1106 2262,1119 2264,1119 2266,1119 2268,1119 2270,1106 2272,1119 2274,1119 2276,1106 2278,1119 2280,1106 2282,1106 2284,1119 2286,1106 2288,1119 2290,1106 2292,1119 2294,1119 2296,1119 2298,1119 2300,1106 2302,1119 2304,1119 2306,1119 2308,1119 2310,1106 2312,1119 2314,1119 2316,1119 2318,1119 2320,1106 2322,1119 2324,1106 2326,1119 2328,1119 2330,1106 2332,1119 2334,1119 2336,1119 2338,1119 2340,1119 2342,1106 2344,1106 2346,1106 2348,1106 2350,1106 2352,1106 2354,1119" fill="none" stroke="#0070C0" stroke-width="10.5" stroke-linejoin="round" stroke-linecap="round"/>
<polyline points="140,1227 142,1232 144,1240 146,1247 148,1261 150,1272 152,1270 154,1271 156,1280 158,1280 160,1282 162,1281 164,1282 166,1283 168,1295 170,1282 172,1295 174,1282 176,1295 178,1283 180,1282 182,1280 184,1283 186,1274 188,1272 190,1263 192,1261 194,1251 196,1249 198,1232 200,1225 202,1220 204,1205 206,1191 208,1175 210,1173 212,1167 214,1155 216,1153 218,1154 220,1158 222,1168 224,1178 226,1188 228,1202 230,1212 232,1222 234,1236 236,1239 238,1251 240,1260 242,1267 244,1266 246,1277 248,1272 250,1279 252,1283 254,1282 256,1282 258,1295 260,1282 262,1282 264,1282 266,1282 268,1282 270,1295 272,1282 274,1282 276,1284 278,1280 280,1274 282,1268 284,1260 286,1247 288,1236 290,1236 292,1228 294,1220 296,1227 298,1219 300,1224 302,1235 304,1237 306,1244 308,1253 310,1256 312,1257 314,1269 316,1256 318,1257 320,1257 322,1256 324,1256 326,1256 328,1256 330,1264 332,1273 334,1269 336,1269 338,1275 340,1281 342,1285 344,1294 346,1283 348,1282 350,1295 352,1295 354,1282 356,1295 358,1295 360,1295 362,1295 364,1295 366,1295 368,1295 370,1295 372,1282 374,1282 376,1282 378,1295 380,1282 382,1295 384,1282 386,1295 388,1282 390,1295 392,1295 394,1284 396,1292 398,1286 400,1275 402,1272 404,1273 406,1267 408,1274 410,1282 412,1292 414,1283 416,1282 418,1282 420,1295 422,1282 424,1282 426,1282 428,1282 430,1282 432,1295 434,1282 436,1282 438,1295 440,1282 442,1282 444,1282 446,1282 448,1295 450,1282 452,1282 454,1282 456,1295 458,1282 460,1282 462,1282 464,1282 466,1282 468,1282 470,1282 472,1282 474,1282 476,1281 478,1279 480,1268 482,1272 484,1267 486,1257 488,1269 490,1268 492,1270 494,1272 496,1266 498,1260 500,1256 502,1237 504,1211 506,1201 508,1191 510,1199 512,1205 514,1223 516,1245 518,1258 520,1272 522,1280 524,1282 526,1282 528,1282 530,1282 532,1282 534,1295 536,1282 538,1282 540,1282 542,1295 544,1282 546,1282 548,1294 550,1279 552,1283 554,1266 556,1252 558,1221 560,1171 562,1103 564,1035 566,991 568,1020 570,1095 572,1159 574,1212 576,1243 578,1267 580,1281 582,1283 584,1283 586,1282 588,1282 590,1282 592,1282 594,1295 596,1282 598,1282 600,1282 602,1282 604,1282 606,1282 608,1282 610,1282 612,1282 614,1282 616,1282 618,1282 620,1282 622,1295 624,1282 626,1282 628,1282 630,1282 632,1282 634,1282 636,1282 638,1282 640,1282 642,1282 644,1282 646,1282 648,1282 650,1282 652,1282 654,1282 656,1282 658,1282 660,1282 662,1282 664,1295 666,1282 668,1282 670,1282 672,1282 674,1282 676,1282 678,1282 680,1281 682,1282 684,1273 686,1278 688,1275 690,1264 692,1259 694,1254 696,1249 698,1241 700,1241 702,1232 704,1230 706,1231 708,1232 710,1241 712,1244 714,1243 716,1243 718,1243 720,1240 722,1238 724,1231 726,1212 728,1212 730,1200 732,1183 734,1179 736,1168 738,1166 740,1155 742,1164 744,1153 746,1149 748,1147 750,1138 752,1120 754,1109 756,1098 758,1088 760,1092 762,1101 764,1113 766,1134 768,1161 770,1188 772,1216 774,1237 776,1242 778,1265 780,1261 782,1268 784,1273 786,1283 788,1282 790,1282 792,1282 794,1282 796,1282 798,1282 800,1282 802,1282 804,1295 806,1282 808,1282 810,1282 812,1295 814,1282 816,1282 818,1282 820,1282 822,1282 824,1282 826,1282 828,1282 830,1282 832,1282 834,1280 836,1275 838,1267 840,1267 842,1255 844,1249 846,1246 848,1239 850,1225 852,1226 854,1218 856,1217 858,1225 860,1232 862,1238 864,1248 866,1264 868,1263 870,1268 872,1275 874,1282 876,1282 878,1283 880,1282 882,1282 884,1282 886,1295 888,1282 890,1295 892,1282 894,1282 896,1282 898,1295 900,1282 902,1295 904,1282 906,1282 908,1284 910,1283 912,1277 914,1272 916,1252 918,1224 920,1187 922,1158 924,1126 926,1134 928,1160 930,1197 932,1227 934,1256 936,1272 938,1278 940,1280 942,1282 944,1282 946,1282 948,1282 950,1282 952,1282 954,1282 956,1281 958,1274 960,1271 962,1263 964,1255 966,1237 968,1230 970,1218 972,1219 974,1219 976,1227 978,1234 980,1250 982,1262 984,1269 986,1277 988,1282 990,1282 992,1282 994,1281 996,1277 998,1271 1000,1269 1002,1261 1004,1249 1006,1233 1008,1217 1010,1210 1012,1203 1014,1213 1016,1227 1018,1239 1020,1254 1022,1269 1024,1273 1026,1278 1028,1281 1030,1295 1032,1282 1034,1282 1036,1282 1038,1282 1040,1280 1042,1274 1044,1272 1046,1263 1048,1249 1050,1222 1052,1183 1054,1133 1056,1078 1058,1023 1060,979 1062,981 1064,1026 1066,1086 1068,1145 1070,1190 1072,1217 1074,1242 1076,1259 1078,1258 1080,1261 1082,1250 1084,1238 1086,1234 1088,1217 1090,1211 1092,1202 1094,1208 1096,1222 1098,1231 1100,1243 1102,1255 1104,1260 1106,1272 1108,1279 1110,1283 1112,1269 1114,1282 1116,1282 1118,1282 1120,1282 1122,1282 1124,1282 1126,1282 1128,1295 1130,1282 1132,1282 1134,1282 1136,1282 1138,1282 1140,1284 1142,1284 1144,1280 1146,1273 1148,1263 1150,1253 1152,1250 1154,1241 1156,1229 1158,1218 1160,1210 1162,1206 1164,1212 1166,1206 1168,1216 1170,1228 1172,1239 1174,1247 1176,1258 1178,1263 1180,1267 1182,1266 1184,1260 1186,1259 1188,1255 1190,1246 1192,1230 1194,1233 1196,1234 1198,1244 1200,1248 1202,1268 1204,1264 1206,1270 1208,1281 1210,1282 1212,1282 1214,1269 1216,1282 1218,1282 1220,1282 1222,1282 1224,1269 1226,1282 1228,1269 1230,1282 1232,1281 1234,1280 1236,1274 1238,1269 1240,1259 1242,1253 1244,1239 1246,1226 1248,1215 1250,1217 1252,1219 1254,1232 1256,1241 1258,1248 1260,1252 1262,1268 1264,1277 1266,1272 1268,1270 1270,1282 1272,1269 1274,1282 1276,1269 1278,1269 1280,1269 1282,1282 1284,1269 1286,1269 1288,1282 1290,1275 1292,1274 1294,1274 1296,1264 1298,1258 1300,1250 1302,1244 1304,1243 1306,1243 1308,1243 1310,1243 1312,1243 1314,1243 1316,1242 1318,1242 1320,1231 1322,1241 1324,1231 1326,1224 1328,1216 1330,1205 1332,1196 1334,1176 1336,1157 1338,1129 1340,1087 1342,1040 1344,983 1346,927 1348,865 1350,819 1352,808 1354,838 1356,881 1358,914 1360,952 1362,977 1364,997 1366,1007 1368,1019 1370,1030 1372,1049 1374,1075 1376,1105 1378,1133 1380,1163 1382,1185 1384,1213 1386,1223 1388,1233 1390,1243 1392,1242 1394,1241 1396,1237 1398,1229 1400,1216 1402,1195 1404,1180 1406,1139 1408,1111 1410,1080 1412,1039 1414,1007 1416,986 1418,996 1420,1015 1422,1051 1424,1088 1426,1120 1428,1158 1430,1186 1432,1211 1434,1223 1436,1242 1438,1250 1440,1258 1442,1272 1444,1271 1446,1270 1448,1269 1450,1268 1452,1268 1454,1257 1456,1250 1458,1242 1460,1229 1462,1228 1464,1222 1466,1234 1468,1251 1470,1251 1472,1261 1474,1271 1476,1267 1478,1261 1480,1257 1482,1246 1484,1243 1486,1227 1488,1236 1490,1230 1492,1227 1494,1241 1496,1249 1498,1259 1500,1272 1502,1273 1504,1277 1506,1282 1508,1282 1510,1282 1512,1282 1514,1282 1516,1282 1518,1282 1520,1283 1522,1280 1524,1272 1526,1271 1528,1257 1530,1247 1532,1232 1534,1215 1536,1199 1538,1170 1540,1158 1542,1155 1544,1154 1546,1166 1548,1173 1550,1199 1552,1218 1554,1234 1556,1251 1558,1259 1560,1267 1562,1272 1564,1269 1566,1270 1568,1269 1570,1275 1572,1266 1574,1268 1576,1248 1578,1230 1580,1227 1582,1214 1584,1215 1586,1218 1588,1211 1590,1228 1592,1236 1594,1249 1596,1264 1598,1270 1600,1275 1602,1274 1604,1279 1606,1282 1608,1282 1610,1282 1612,1269 1614,1269 1616,1282 1618,1282 1620,1270 1622,1269 1624,1270 1626,1266 1628,1265 1630,1263 1632,1248 1634,1244 1636,1235 1638,1221 1640,1203 1642,1183 1644,1158 1646,1133 1648,1096 1650,1067 1652,1039 1654,1016 1656,1012 1658,1032 1660,1052 1662,1090 1664,1124 1666,1148 1668,1172 1670,1202 1672,1212 1674,1231 1676,1245 1678,1253 1680,1259 1682,1263 1684,1273 1686,1270 1688,1269 1690,1269 1692,1269 1694,1270 1696,1269 1698,1256 1700,1254 1702,1251 1704,1244 1706,1236 1708,1219 1710,1199 1712,1179 1714,1152 1716,1127 1718,1096 1720,1055 1722,1020 1724,979 1726,938 1728,899 1730,866 1732,835 1734,855 1736,893 1738,930 1740,969 1742,1011 1744,1050 1746,1090 1748,1127 1750,1157 1752,1171 1754,1196 1756,1213 1758,1227 1760,1245 1762,1249 1764,1260 1766,1266 1768,1269 1770,1282 1772,1280 1774,1283 1776,1282 1778,1282 1780,1282 1782,1282 1784,1282 1786,1282 1788,1282 1790,1282 1792,1282 1794,1282 1796,1282 1798,1282 1800,1282 1802,1282 1804,1282 1806,1282 1808,1282 1810,1282 1812,1282 1814,1282 1816,1282 1818,1282 1820,1282 1822,1282 1824,1280 1826,1281 1828,1274 1830,1267 1832,1268 1834,1269 1836,1270 1838,1270 1840,1271 1842,1281 1844,1270 1846,1278 1848,1270 1850,1269 1852,1253 1854,1247 1856,1238 1858,1236 1860,1242 1862,1235 1864,1241 1866,1252 1868,1262 1870,1266 1872,1280 1874,1280 1876,1282 1878,1282 1880,1282 1882,1282 1884,1295 1886,1282 1888,1295 1890,1282 1892,1282 1894,1282 1896,1282 1898,1282 1900,1295 1902,1282 1904,1282 1906,1282 1908,1282 1910,1295 1912,1295 1914,1295 1916,1295 1918,1282 1920,1282 1922,1282 1924,1295 1926,1282 1928,1295 1930,1282 1932,1282 1934,1295 1936,1295 1938,1282 1940,1282 1942,1282 1944,1282 1946,1282 1948,1295 1950,1282 1952,1282 1954,1282 1956,1282 1958,1282 1960,1282 1962,1282 1964,1282 1966,1282 1968,1295 1970,1282 1972,1295 1974,1282 1976,1282 1978,1282 1980,1282 1982,1282 1984,1282 1986,1282 1988,1282 1990,1295 1992,1295 1994,1282 1996,1295 1998,1295 2000,1295 2002,1282 2004,1295 2006,1295 2008,1282 2010,1282 2012,1295 2014,1295 2016,1295 2018,1295 2020,1282 2022,1282 2024,1282 2026,1295 2028,1295 2030,1295 2032,1282 2034,1295 2036,1295 2038,1295 2040,1295 2042,1282 2044,1295 2046,1282 2048,1295 2050,1295 2052,1282 2054,1282 2056,1282 2058,1282 2060,1282 2062,1282 2064,1282 2066,1295 2068,1282 2070,1282 2072,1282 2074,1295 2076,1282 2078,1282 2080,1282 2082,1282 2084,1282 2086,1282 2088,1295 2090,1282 2092,1295 2094,1295 2096,1282 2098,1282 2100,1282 2102,1282 2104,1282 2106,1282 2108,1282 2110,1282 2112,1295 2114,1295 2116,1282 2118,1282 2120,1282 2122,1282 2124,1295 2126,1282 2128,1295 2130,1295 2132,1282 2134,1295 2136,1282 2138,1295 2140,1295 2142,1282 2144,1282 2146,1295 2148,1295 2150,1282 2152,1282 2154,1282 2156,1282 2158,1282 2160,1282 2162,1282 2164,1282 2166,1282 2168,1295 2170,1295 2172,1282 2174,1282 2176,1282 2178,1282 2180,1295 2182,1282 2184,1295 2186,1295 2188,1295 2190,1295 2192,1295 2194,1295 2196,1295 2198,1295 2200,1282 2202,1295 2204,1295 2206,1282 2208,1295 2210,1295 2212,1295 2214,1295 2216,1295 2218,1282 2220,1295 2222,1282 2224,1295 2226,1282 2228,1295 2230,1295 2232,1295 2234,1282 2236,1282 2238,1282 2240,1295 2242,1295 2244,1295 2246,1295 2248,1282 2250,1295 2252,1295 2254,1295 2256,1295 2258,1295 2260,1295 2262,1295 2264,1282 2266,1295 2268,1282 2270,1295 2272,1282 2274,1295 2276,1282 2278,1282 2280,1295 2282,1295 2284,1295 2286,1282 2288,1295 2290,1295 2292,1295 2294,1295 2296,1295 2298,1295 2300,1295 2302,1295 2304,1295 2306,1282 2308,1295 2310,1295 2312,1295 2314,1295 2316,1295 2318,1282 2320,1295 2322,1295 2324,1282 2326,1282 2328,1282 2330,1282 2332,1282 2334,1295 2336,1282 2338,1282 2340,1282 2342,1295 2344,1295 2346,1282 2348,1295 2350,1295 2352,1295 2354,1295" fill="none" stroke="#FFFF1A" stroke-width="10.5" stroke-linejoin="round" stroke-linecap="round"/>
<polyline points="140,1427 142,1433 144,1431 146,1438 148,1439 150,1446 152,1443 154,1442 156,1453 158,1443 160,1454 162,1455 164,1454 166,1454 168,1454 170,1454 172,1454 174,1454 176,1454 178,1454 180,1453 182,1454 184,1449 186,1440 188,1443 190,1428 192,1416 194,1425 196,1404 198,1399 200,1382 202,1376 204,1361 206,1359 208,1337 210,1335 212,1324 214,1322 216,1314 218,1320 220,1317 222,1333 224,1333 226,1350 228,1365 230,1374 232,1388 234,1402 236,1411 238,1416 240,1424 242,1434 244,1437 246,1440 248,1441 250,1444 252,1453 254,1442 256,1454 258,1454 260,1442 262,1454 264,1454 266,1454 268,1454 270,1454 272,1454 274,1453 276,1452 278,1441 280,1434 282,1436 284,1428 286,1425 288,1407 290,1398 292,1391 294,1386 296,1390 298,1390 300,1397 302,1398 304,1407 306,1418 308,1417 310,1416 312,1415 314,1428 316,1418 318,1413 320,1416 322,1416 324,1416 326,1414 328,1419 330,1421 332,1428 334,1431 336,1428 338,1446 340,1447 342,1446 344,1452 346,1454 348,1455 350,1454 352,1442 354,1454 356,1454 358,1454 360,1454 362,1454 364,1454 366,1454 368,1454 370,1454 372,1454 374,1468 376,1454 378,1454 380,1454 382,1468 384,1454 386,1468 388,1454 390,1468 392,1454 394,1455 396,1456 398,1456 400,1451 402,1440 404,1441 406,1440 408,1445 410,1446 412,1465 414,1455 416,1454 418,1454 420,1454 422,1454 424,1454 426,1454 428,1468 430,1454 432,1454 434,1468 436,1454 438,1454 440,1454 442,1468 444,1454 446,1454 448,1442 450,1454 452,1454 454,1454 456,1454 458,1454 460,1454 462,1454 464,1454 466,1454 468,1454 470,1454 472,1454 474,1455 476,1454 478,1444 480,1455 482,1438 484,1441 486,1441 488,1428 490,1454 492,1442 494,1441 496,1436 498,1435 500,1429 502,1411 504,1389 506,1381 508,1373 510,1377 512,1391 514,1405 516,1420 518,1439 520,1444 522,1452 524,1455 526,1454 528,1468 530,1454 532,1454 534,1454 536,1454 538,1454 540,1454 542,1454 544,1454 546,1454 548,1455 550,1454 552,1455 554,1435 556,1422 558,1384 560,1345 562,1279 564,1210 566,1165 568,1195 570,1258 572,1324 574,1386 576,1417 578,1430 580,1449 582,1448 584,1453 586,1454 588,1454 590,1454 592,1454 594,1454 596,1454 598,1454 600,1454 602,1468 604,1454 606,1468 608,1454 610,1454 612,1454 614,1454 616,1468 618,1454 620,1454 622,1468 624,1454 626,1454 628,1468 630,1454 632,1454 634,1468 636,1468 638,1454 640,1454 642,1454 644,1454 646,1454 648,1454 650,1454 652,1468 654,1454 656,1454 658,1468 660,1454 662,1454 664,1454 666,1454 668,1454 670,1454 672,1454 674,1454 676,1454 678,1454 680,1444 682,1441 684,1450 686,1432 688,1430 690,1418 692,1422 694,1401 696,1402 698,1395 700,1377 702,1385 704,1377 706,1375 708,1389 710,1387 712,1393 714,1398 716,1401 718,1401 720,1395 722,1387 724,1378 726,1377 728,1363 730,1349 732,1341 734,1330 736,1330 738,1322 740,1312 742,1313 744,1314 746,1310 748,1308 750,1293 752,1276 754,1267 756,1251 758,1248 760,1245 762,1266 764,1283 766,1300 768,1334 770,1352 772,1378 774,1407 776,1415 778,1432 780,1438 782,1450 784,1449 786,1443 788,1454 790,1454 792,1454 794,1454 796,1454 798,1454 800,1454 802,1454 804,1454 806,1454 808,1468 810,1454 812,1454 814,1454 816,1454 818,1454 820,1454 822,1454 824,1468 826,1468 828,1454 830,1454 832,1454 834,1455 836,1442 838,1445 840,1446 842,1440 844,1433 846,1426 848,1422 850,1418 852,1403 854,1405 856,1404 858,1404 860,1412 862,1425 864,1427 866,1433 868,1440 870,1444 872,1443 874,1445 876,1455 878,1455 880,1468 882,1454 884,1468 886,1454 888,1454 890,1468 892,1454 894,1454 896,1468 898,1454 900,1454 902,1454 904,1454 906,1454 908,1456 910,1462 912,1449 914,1442 916,1417 918,1387 920,1353 922,1314 924,1292 926,1292 928,1327 930,1368 932,1400 934,1431 936,1448 938,1437 940,1456 942,1455 944,1454 946,1454 948,1454 950,1454 952,1454 954,1455 956,1451 958,1449 960,1443 962,1427 964,1421 966,1406 968,1391 970,1381 972,1372 974,1380 976,1383 978,1404 980,1416 982,1426 984,1434 986,1445 988,1444 990,1442 992,1442 994,1453 996,1450 998,1441 1000,1435 1002,1421 1004,1411 1006,1397 1008,1390 1010,1379 1012,1374 1014,1385 1016,1397 1018,1403 1020,1422 1022,1434 1024,1441 1026,1442 1028,1453 1030,1454 1032,1454 1034,1454 1036,1454 1038,1454 1040,1453 1042,1451 1044,1440 1046,1431 1048,1415 1050,1395 1052,1355 1054,1287 1056,1230 1058,1174 1060,1114 1062,1123 1064,1172 1066,1229 1068,1298 1070,1348 1072,1390 1074,1421 1076,1421 1078,1429 1080,1430 1082,1422 1084,1413 1086,1397 1088,1377 1090,1365 1092,1366 1094,1371 1096,1377 1098,1398 1100,1412 1102,1427 1104,1436 1106,1444 1108,1455 1110,1457 1112,1455 1114,1454 1116,1454 1118,1454 1120,1454 1122,1454 1124,1468 1126,1454 1128,1454 1130,1454 1132,1454 1134,1454 1136,1468 1138,1455 1140,1456 1142,1455 1144,1445 1146,1448 1148,1436 1150,1430 1152,1425 1154,1410 1156,1394 1158,1391 1160,1376 1162,1372 1164,1379 1166,1382 1168,1395 1170,1402 1172,1417 1174,1429 1176,1425 1178,1441 1180,1441 1182,1443 1184,1440 1186,1435 1188,1423 1190,1423 1192,1413 1194,1414 1196,1426 1198,1429 1200,1432 1202,1447 1204,1447 1206,1447 1208,1443 1210,1455 1212,1454 1214,1468 1216,1454 1218,1442 1220,1454 1222,1442 1224,1454 1226,1454 1228,1454 1230,1454 1232,1454 1234,1455 1236,1446 1238,1440 1240,1433 1242,1423 1244,1415 1246,1392 1248,1393 1250,1389 1252,1395 1254,1406 1256,1416 1258,1425 1260,1432 1262,1445 1264,1449 1266,1451 1268,1454 1270,1454 1272,1454 1274,1454 1276,1454 1278,1454 1280,1454 1282,1454 1284,1454 1286,1454 1288,1454 1290,1454 1292,1454 1294,1442 1296,1454 1298,1454 1300,1454 1302,1442 1304,1454 1306,1454 1308,1454 1310,1454 1312,1454 1314,1454 1316,1442 1318,1443 1320,1453 1322,1442 1324,1440 1326,1437 1328,1424 1330,1417 1332,1398 1334,1380 1336,1349 1338,1317 1340,1275 1342,1220 1344,1160 1346,1093 1348,1029 1350,984 1352,981 1354,1001 1356,1031 1358,1065 1360,1101 1362,1116 1364,1118 1366,1119 1368,1131 1370,1141 1372,1161 1374,1191 1376,1236 1378,1272 1380,1309 1382,1338 1384,1368 1386,1388 1388,1391 1390,1413 1392,1418 1394,1413 1396,1413 1398,1398 1400,1385 1402,1358 1404,1353 1406,1316 1408,1279 1410,1236 1412,1198 1414,1168 1416,1150 1418,1152 1420,1173 1422,1217 1424,1256 1426,1290 1428,1336 1430,1359 1432,1377 1434,1398 1436,1409 1438,1427 1440,1430 1442,1446 1444,1446 1446,1454 1448,1454 1450,1441 1452,1435 1454,1435 1456,1429 1458,1416 1460,1410 1462,1401 1464,1404 1466,1405 1468,1423 1470,1431 1472,1448 1474,1446 1476,1453 1478,1440 1480,1435 1482,1430 1484,1427 1486,1421 1488,1415 1490,1417 1492,1414 1494,1424 1496,1433 1498,1437 1500,1441 1502,1451 1504,1452 1506,1454 1508,1454 1510,1454 1512,1454 1514,1454 1516,1454 1518,1454 1520,1454 1522,1457 1524,1453 1526,1447 1528,1442 1530,1428 1532,1417 1534,1401 1536,1390 1538,1362 1540,1359 1542,1344 1544,1347 1546,1352 1548,1362 1550,1378 1552,1392 1554,1417 1556,1428 1558,1437 1560,1443 1562,1454 1564,1442 1566,1442 1568,1450 1570,1445 1572,1440 1574,1433 1576,1416 1578,1413 1580,1408 1582,1403 1584,1395 1586,1387 1588,1398 1590,1404 1592,1424 1594,1420 1596,1435 1598,1450 1600,1442 1602,1452 1604,1452 1606,1455 1608,1454 1610,1454 1612,1454 1614,1454 1616,1454 1618,1454 1620,1454 1622,1454 1624,1452 1626,1441 1628,1442 1630,1431 1632,1437 1634,1420 1636,1413 1638,1400 1640,1388 1642,1357 1644,1342 1646,1312 1648,1287 1650,1260 1652,1235 1654,1208 1656,1203 1658,1219 1660,1258 1662,1275 1664,1321 1666,1332 1668,1360 1670,1375 1672,1395 1674,1410 1676,1422 1678,1429 1680,1435 1682,1442 1684,1444 1686,1454 1688,1454 1690,1442 1692,1454 1694,1444 1696,1446 1698,1437 1700,1438 1702,1429 1704,1421 1706,1410 1708,1397 1710,1386 1712,1362 1714,1341 1716,1316 1718,1289 1720,1245 1722,1210 1724,1178 1726,1142 1728,1097 1730,1073 1732,1048 1734,1066 1736,1092 1738,1130 1740,1171 1742,1214 1744,1242 1746,1271 1748,1308 1750,1336 1752,1356 1754,1378 1756,1389 1758,1404 1760,1419 1762,1425 1764,1438 1766,1442 1768,1439 1770,1443 1772,1453 1774,1454 1776,1454 1778,1454 1780,1454 1782,1454 1784,1454 1786,1468 1788,1468 1790,1454 1792,1454 1794,1454 1796,1468 1798,1454 1800,1454 1802,1454 1804,1454 1806,1468 1808,1454 1810,1468 1812,1454 1814,1454 1816,1468 1818,1454 1820,1468 1822,1455 1824,1457 1826,1457 1828,1451 1830,1443 1832,1442 1834,1441 1836,1441 1838,1451 1840,1444 1842,1443 1844,1454 1846,1455 1848,1445 1850,1436 1852,1424 1854,1420 1856,1398 1858,1401 1860,1401 1862,1405 1864,1402 1866,1418 1868,1419 1870,1444 1872,1440 1874,1447 1876,1444 1878,1455 1880,1455 1882,1454 1884,1454 1886,1468 1888,1454 1890,1454 1892,1454 1894,1468 1896,1468 1898,1454 1900,1454 1902,1454 1904,1454 1906,1454 1908,1468 1910,1454 1912,1454 1914,1468 1916,1454 1918,1468 1920,1468 1922,1468 1924,1454 1926,1454 1928,1468 1930,1454 1932,1454 1934,1454 1936,1454 1938,1468 1940,1454 1942,1468 1944,1454 1946,1468 1948,1468 1950,1454 1952,1468 1954,1454 1956,1468 1958,1454 1960,1468 1962,1454 1964,1454 1966,1468 1968,1468 1970,1468 1972,1454 1974,1468 1976,1454 1978,1468 1980,1468 1982,1468 1984,1468 1986,1454 1988,1454 1990,1468 1992,1468 1994,1468 1996,1480 1998,1468 2000,1454 2002,1468 2004,1468 2006,1454 2008,1454 2010,1468 2012,1468 2014,1468 2016,1468 2018,1468 2020,1454 2022,1468 2024,1454 2026,1468 2028,1454 2030,1468 2032,1454 2034,1468 2036,1454 2038,1468 2040,1468 2042,1454 2044,1454 2046,1454 2048,1468 2050,1454 2052,1468 2054,1468 2056,1454 2058,1454 2060,1468 2062,1454 2064,1468 2066,1468 2068,1454 2070,1468 2072,1454 2074,1454 2076,1454 2078,1454 2080,1468 2082,1468 2084,1454 2086,1454 2088,1454 2090,1454 2092,1468 2094,1454 2096,1454 2098,1468 2100,1454 2102,1454 2104,1454 2106,1468 2108,1454 2110,1454 2112,1454 2114,1454 2116,1454 2118,1468 2120,1454 2122,1454 2124,1454 2126,1468 2128,1468 2130,1454 2132,1468 2134,1468 2136,1468 2138,1468 2140,1468 2142,1454 2144,1468 2146,1454 2148,1468 2150,1468 2152,1454 2154,1468 2156,1468 2158,1468 2160,1468 2162,1468 2164,1454 2166,1468 2168,1454 2170,1468 2172,1468 2174,1468 2176,1468 2178,1454 2180,1468 2182,1454 2184,1454 2186,1468 2188,1454 2190,1454 2192,1468 2194,1468 2196,1468 2198,1454 2200,1468 2202,1468 2204,1454 2206,1468 2208,1454 2210,1454 2212,1454 2214,1454 2216,1454 2218,1468 2220,1454 2222,1468 2224,1468 2226,1468 2228,1454 2230,1468 2232,1468 2234,1468 2236,1468 2238,1468 2240,1454 2242,1468 2244,1454 2246,1454 2248,1454 2250,1468 2252,1454 2254,1468 2256,1468 2258,1454 2260,1454 2262,1468 2264,1454 2266,1454 2268,1468 2270,1454 2272,1454 2274,1454 2276,1468 2278,1468 2280,1454 2282,1454 2284,1454 2286,1468 2288,1468 2290,1468 2292,1468 2294,1454 2296,1454 2298,1454 2300,1468 2302,1454 2304,1468 2306,1454 2308,1454 2310,1454 2312,1468 2314,1468 2316,1454 2318,1454 2320,1454 2322,1468 2324,1468 2326,1468 2328,1454 2330,1468 2332,1468 2334,1468 2336,1468 2338,1468 2340,1468 2342,1468 2344,1468 2346,1468 2348,1468 2350,1468 2352,1468 2354,1454" fill="none" stroke="#FF0080" stroke-width="10.5" stroke-linejoin="round" stroke-linecap="round"/>
<polyline points="140,1582 142,1582 144,1582 146,1582 148,1593 150,1594 152,1582 154,1594 156,1594 158,1582 160,1582 162,1594 164,1594 166,1594 168,1582 170,1582 172,1582 174,1594 176,1582 178,1594 180,1582 182,1593 184,1581 186,1583 188,1573 190,1561 192,1568 194,1563 196,1548 198,1539 200,1528 202,1524 204,1507 206,1497 208,1489 210,1483 212,1473 214,1467 216,1477 218,1475 220,1480 222,1479 224,1485 226,1499 228,1516 230,1521 232,1525 234,1537 236,1556 238,1555 240,1552 242,1572 244,1568 246,1581 248,1580 250,1584 252,1582 254,1582 256,1594 258,1582 260,1582 262,1582 264,1582 266,1594 268,1594 270,1582 272,1582 274,1582 276,1584 278,1576 280,1567 282,1578 284,1559 286,1558 288,1552 290,1539 292,1535 294,1530 296,1529 298,1530 300,1537 302,1542 304,1539 306,1556 308,1553 310,1556 312,1568 314,1568 316,1558 318,1557 320,1557 322,1555 324,1542 326,1543 328,1554 330,1561 332,1566 334,1564 336,1568 338,1577 340,1574 342,1583 344,1592 346,1582 348,1581 350,1582 352,1594 354,1594 356,1594 358,1582 360,1594 362,1582 364,1594 366,1594 368,1594 370,1608 372,1582 374,1594 376,1594 378,1594 380,1594 382,1594 384,1582 386,1594 388,1594 390,1582 392,1594 394,1595 396,1585 398,1579 400,1575 402,1568 404,1564 406,1569 408,1574 410,1582 412,1586 414,1605 416,1595 418,1582 420,1594 422,1594 424,1594 426,1594 428,1594 430,1594 432,1594 434,1594 436,1594 438,1594 440,1594 442,1594 444,1594 446,1594 448,1594 450,1594 452,1594 454,1594 456,1594 458,1594 460,1594 462,1594 464,1582 466,1594 468,1582 470,1594 472,1582 474,1582 476,1594 478,1582 480,1594 482,1582 484,1594 486,1594 488,1594 490,1594 492,1582 494,1583 496,1577 498,1572 500,1559 502,1543 504,1530 506,1522 508,1518 510,1523 512,1534 514,1547 516,1562 518,1577 520,1586 522,1589 524,1593 526,1582 528,1594 530,1594 532,1594 534,1594 536,1594 538,1608 540,1594 542,1594 544,1594 546,1594 548,1594 550,1590 552,1590 554,1573 556,1567 558,1532 560,1488 562,1435 564,1380 566,1329 568,1365 570,1421 572,1482 574,1528 576,1557 578,1565 580,1590 582,1593 584,1607 586,1594 588,1582 590,1582 592,1582 594,1594 596,1594 598,1594 600,1594 602,1594 604,1594 606,1582 608,1594 610,1594 612,1594 614,1594 616,1594 618,1594 620,1582 622,1594 624,1594 626,1594 628,1594 630,1594 632,1594 634,1594 636,1594 638,1594 640,1594 642,1594 644,1594 646,1608 648,1594 650,1594 652,1582 654,1582 656,1594 658,1608 660,1582 662,1594 664,1582 666,1582 668,1594 670,1594 672,1594 674,1594 676,1594 678,1582 680,1595 682,1577 684,1575 686,1575 688,1579 690,1566 692,1564 694,1543 696,1545 698,1525 700,1513 702,1516 704,1516 706,1519 708,1518 710,1525 712,1524 714,1529 716,1541 718,1542 720,1542 722,1537 724,1533 726,1528 728,1510 730,1503 732,1500 734,1492 736,1481 738,1478 740,1479 742,1478 744,1479 746,1471 748,1463 750,1456 752,1443 754,1434 756,1420 758,1420 760,1415 762,1419 764,1442 766,1459 768,1473 770,1499 772,1523 774,1544 776,1563 778,1568 780,1577 782,1588 784,1585 786,1582 788,1582 790,1582 792,1582 794,1582 796,1582 798,1582 800,1582 802,1582 804,1594 806,1582 808,1582 810,1582 812,1582 814,1594 816,1594 818,1582 820,1594 822,1594 824,1594 826,1594 828,1582 830,1594 832,1594 834,1593 836,1584 838,1584 840,1587 842,1569 844,1568 846,1559 848,1559 850,1548 852,1547 854,1543 856,1544 858,1546 860,1545 862,1549 864,1568 866,1573 868,1577 870,1589 872,1594 874,1594 876,1595 878,1594 880,1594 882,1594 884,1594 886,1594 888,1582 890,1594 892,1594 894,1594 896,1594 898,1594 900,1594 902,1594 904,1594 906,1594 908,1594 910,1595 912,1587 914,1581 916,1552 918,1539 920,1512 922,1473 924,1451 926,1459 928,1487 930,1519 932,1551 934,1568 936,1582 938,1585 940,1593 942,1582 944,1582 946,1594 948,1594 950,1594 952,1582 954,1594 956,1595 958,1581 960,1576 962,1576 964,1564 966,1544 968,1543 970,1533 972,1532 974,1530 976,1536 978,1549 980,1561 982,1581 984,1587 986,1570 988,1585 990,1594 992,1582 994,1594 996,1593 998,1590 1000,1583 1002,1581 1004,1568 1006,1561 1008,1551 1010,1548 1012,1541 1014,1538 1016,1556 1018,1565 1020,1572 1022,1584 1024,1588 1026,1592 1028,1594 1030,1582 1032,1594 1034,1594 1036,1594 1038,1594 1040,1594 1042,1586 1044,1576 1046,1572 1048,1550 1050,1539 1052,1500 1054,1451 1056,1399 1058,1345 1060,1294 1062,1298 1064,1345 1066,1403 1068,1460 1070,1503 1072,1532 1074,1559 1076,1572 1078,1573 1080,1575 1082,1560 1084,1551 1086,1532 1088,1523 1090,1520 1092,1517 1094,1520 1096,1523 1098,1540 1100,1555 1102,1570 1104,1579 1106,1578 1108,1591 1110,1595 1112,1594 1114,1594 1116,1594 1118,1594 1120,1594 1122,1594 1124,1608 1126,1594 1128,1594 1130,1594 1132,1594 1134,1582 1136,1582 1138,1595 1140,1583 1142,1585 1144,1576 1146,1572 1148,1571 1150,1562 1152,1552 1154,1539 1156,1534 1158,1518 1160,1527 1162,1508 1164,1510 1166,1518 1168,1537 1170,1533 1172,1546 1174,1555 1176,1569 1178,1575 1180,1580 1182,1580 1184,1581 1186,1576 1188,1567 1190,1561 1192,1555 1194,1554 1196,1559 1198,1571 1200,1568 1202,1582 1204,1583 1206,1585 1208,1594 1210,1582 1212,1594 1214,1594 1216,1594 1218,1594 1220,1594 1222,1594 1224,1594 1226,1594 1228,1594 1230,1594 1232,1595 1234,1592 1236,1582 1238,1576 1240,1577 1242,1565 1244,1551 1246,1538 1248,1534 1250,1531 1252,1533 1254,1540 1256,1553 1258,1564 1260,1568 1262,1575 1264,1595 1266,1595 1268,1594 1270,1594 1272,1594 1274,1594 1276,1582 1278,1594 1280,1594 1282,1594 1284,1594 1286,1594 1288,1594 1290,1594 1292,1594 1294,1582 1296,1582 1298,1594 1300,1594 1302,1594 1304,1594 1306,1594 1308,1582 1310,1594 1312,1594 1314,1582 1316,1594 1318,1581 1320,1583 1322,1580 1324,1578 1326,1572 1328,1565 1330,1549 1332,1537 1334,1521 1336,1493 1338,1450 1340,1408 1342,1361 1344,1295 1346,1237 1348,1175 1350,1131 1352,1119 1354,1144 1356,1183 1358,1215 1360,1246 1362,1280 1364,1286 1366,1297 1368,1312 1370,1331 1372,1349 1374,1372 1376,1405 1378,1440 1380,1467 1382,1499 1384,1513 1386,1532 1388,1543 1390,1551 1392,1556 1394,1554 1396,1545 1398,1544 1400,1522 1402,1509 1404,1486 1406,1450 1408,1419 1410,1387 1412,1354 1414,1306 1416,1286 1418,1293 1420,1319 1422,1360 1424,1390 1426,1429 1428,1462 1430,1494 1432,1522 1434,1538 1436,1553 1438,1570 1440,1576 1442,1585 1444,1579 1446,1582 1448,1594 1450,1594 1452,1585 1454,1587 1456,1572 1458,1569 1460,1553 1462,1558 1464,1556 1466,1562 1468,1573 1470,1571 1472,1579 1474,1584 1476,1583 1478,1583 1480,1584 1482,1576 1484,1567 1486,1560 1488,1555 1490,1557 1492,1562 1494,1558 1496,1565 1498,1587 1500,1583 1502,1591 1504,1591 1506,1582 1508,1582 1510,1594 1512,1594 1514,1594 1516,1594 1518,1594 1520,1594 1522,1595 1524,1595 1526,1586 1528,1575 1530,1565 1532,1566 1534,1547 1536,1534 1538,1533 1540,1513 1542,1500 1544,1504 1546,1506 1548,1517 1550,1535 1552,1550 1554,1562 1556,1570 1558,1577 1560,1577 1562,1585 1564,1582 1566,1582 1568,1583 1570,1590 1572,1577 1574,1576 1576,1565 1578,1554 1580,1548 1582,1544 1584,1544 1586,1545 1588,1546 1590,1548 1592,1566 1594,1572 1596,1582 1598,1585 1600,1585 1602,1579 1604,1594 1606,1594 1608,1594 1610,1594 1612,1594 1614,1594 1616,1594 1618,1594 1620,1582 1622,1595 1624,1583 1626,1590 1628,1590 1630,1573 1632,1574 1634,1571 1636,1548 1638,1534 1640,1528 1642,1505 1644,1485 1646,1461 1648,1426 1650,1401 1652,1380 1654,1349 1656,1345 1658,1365 1660,1401 1662,1416 1664,1443 1666,1476 1668,1500 1670,1517 1672,1532 1674,1546 1676,1559 1678,1569 1680,1568 1682,1577 1684,1578 1686,1581 1688,1582 1690,1582 1692,1582 1694,1581 1696,1586 1698,1574 1700,1569 1702,1562 1704,1561 1706,1545 1708,1534 1710,1523 1712,1507 1714,1482 1716,1467 1718,1437 1720,1407 1722,1375 1724,1334 1726,1298 1728,1260 1730,1229 1732,1214 1734,1224 1736,1254 1738,1285 1740,1325 1742,1355 1744,1394 1746,1423 1748,1453 1750,1474 1752,1507 1754,1514 1756,1542 1758,1549 1760,1554 1762,1568 1764,1586 1766,1574 1768,1583 1770,1581 1772,1595 1774,1595 1776,1594 1778,1594 1780,1594 1782,1594 1784,1608 1786,1594 1788,1594 1790,1594 1792,1594 1794,1594 1796,1608 1798,1594 1800,1594 1802,1594 1804,1594 1806,1608 1808,1608 1810,1608 1812,1608 1814,1594 1816,1594 1818,1594 1820,1594 1822,1594 1824,1595 1826,1593 1828,1583 1830,1584 1832,1582 1834,1582 1836,1594 1838,1582 1840,1582 1842,1594 1844,1594 1846,1591 1848,1587 1850,1573 1852,1570 1854,1554 1856,1550 1858,1541 1860,1540 1862,1546 1864,1548 1866,1560 1868,1577 1870,1581 1872,1585 1874,1586 1876,1594 1878,1595 1880,1594 1882,1594 1884,1594 1886,1608 1888,1594 1890,1594 1892,1608 1894,1594 1896,1594 1898,1594 1900,1608 1902,1594 1904,1594 1906,1608 1908,1594 1910,1594 1912,1594 1914,1594 1916,1594 1918,1594 1920,1594 1922,1594 1924,1594 1926,1594 1928,1594 1930,1594 1932,1608 1934,1594 1936,1594 1938,1608 1940,1594 1942,1608 1944,1594 1946,1608 1948,1608 1950,1608 1952,1594 1954,1608 1956,1594 1958,1594 1960,1608 1962,1608 1964,1608 1966,1594 1968,1594 1970,1608 1972,1608 1974,1608 1976,1594 1978,1594 1980,1608 1982,1594 1984,1608 1986,1594 1988,1608 1990,1594 1992,1594 1994,1608 1996,1594 1998,1594 2000,1594 2002,1608 2004,1594 2006,1594 2008,1608 2010,1608 2012,1594 2014,1594 2016,1594 2018,1594 2020,1594 2022,1594 2024,1594 2026,1594 2028,1594 2030,1594 2032,1594 2034,1608 2036,1594 2038,1594 2040,1594 2042,1594 2044,1594 2046,1594 2048,1594 2050,1608 2052,1608 2054,1594 2056,1594 2058,1608 2060,1594 2062,1608 2064,1608 2066,1608 2068,1594 2070,1608 2072,1594 2074,1608 2076,1594 2078,1594 2080,1594 2082,1594 2084,1594 2086,1594 2088,1594 2090,1594 2092,1594 2094,1594 2096,1608 2098,1594 2100,1608 2102,1594 2104,1594 2106,1608 2108,1608 2110,1608 2112,1608 2114,1608 2116,1594 2118,1594 2120,1608 2122,1608 2124,1608 2126,1594 2128,1594 2130,1608 2132,1608 2134,1608 2136,1594 2138,1594 2140,1608 2142,1608 2144,1594 2146,1608 2148,1594 2150,1608 2152,1608 2154,1594 2156,1608 2158,1608 2160,1608 2162,1608 2164,1608 2166,1608 2168,1594 2170,1594 2172,1594 2174,1594 2176,1594 2178,1608 2180,1594 2182,1594 2184,1594 2186,1608 2188,1594 2190,1594 2192,1594 2194,1594 2196,1594 2198,1594 2200,1608 2202,1594 2204,1594 2206,1608 2208,1594 2210,1608 2212,1594 2214,1594 2216,1594 2218,1608 2220,1608 2222,1594 2224,1594 2226,1594 2228,1608 2230,1594 2232,1594 2234,1608 2236,1594 2238,1594 2240,1608 2242,1594 2244,1608 2246,1594 2248,1594 2250,1608 2252,1594 2254,1594 2256,1594 2258,1594 2260,1594 2262,1594 2264,1594 2266,1594 2268,1594 2270,1594 2272,1608 2274,1608 2276,1594 2278,1594 2280,1594 2282,1608 2284,1608 2286,1594 2288,1594 2290,1608 2292,1594 2294,1594 2296,1594 2298,1594 2300,1594 2302,1608 2304,1608 2306,1608 2308,1608 2310,1608 2312,1608 2314,1594 2316,1608 2318,1608 2320,1594 2322,1608 2324,1608 2326,1594 2328,1608 2330,1608 2332,1608 2334,1608 2336,1608 2338,1594 2340,1594 2342,1594 2344,1594 2346,1594 2348,1594 2350,1594 2352,1594 2354,1594" fill="none" stroke="#FF8000" stroke-width="10.5" stroke-linejoin="round" stroke-linecap="round"/>
<polyline points="140,1740 142,1734 144,1748 146,1754 148,1749 150,1764 152,1764 154,1764 156,1752 158,1764 160,1764 162,1752 164,1752 166,1764 168,1764 170,1752 172,1752 174,1752 176,1764 178,1752 180,1751 182,1751 184,1753 186,1741 188,1731 190,1736 192,1732 194,1728 196,1719 198,1719 200,1711 202,1698 204,1693 206,1690 208,1669 210,1670 212,1661 214,1672 216,1661 218,1660 220,1664 222,1666 224,1669 226,1687 228,1675 230,1696 232,1700 234,1718 236,1725 238,1723 240,1732 242,1729 244,1741 246,1748 248,1738 250,1751 252,1752 254,1752 256,1752 258,1752 260,1752 262,1738 264,1764 266,1764 268,1752 270,1738 272,1752 274,1751 276,1740 278,1743 280,1737 282,1734 284,1735 286,1726 288,1712 290,1704 292,1710 294,1710 296,1699 298,1700 300,1710 302,1715 304,1720 306,1729 308,1724 310,1726 312,1738 314,1727 316,1714 318,1712 320,1715 322,1713 324,1712 326,1712 328,1712 330,1715 332,1720 334,1721 336,1735 338,1736 340,1736 342,1736 344,1740 346,1750 348,1739 350,1752 352,1752 354,1738 356,1752 358,1752 360,1752 362,1752 364,1752 366,1752 368,1752 370,1752 372,1752 374,1752 376,1752 378,1752 380,1752 382,1764 384,1752 386,1764 388,1752 390,1752 392,1751 394,1751 396,1753 398,1737 400,1745 402,1732 404,1726 406,1738 408,1739 410,1750 412,1758 414,1764 416,1764 418,1764 420,1778 422,1764 424,1752 426,1764 428,1764 430,1752 432,1764 434,1764 436,1752 438,1764 440,1764 442,1764 444,1752 446,1752 448,1764 450,1752 452,1764 454,1752 456,1764 458,1752 460,1752 462,1752 464,1764 466,1752 468,1764 470,1752 472,1764 474,1752 476,1752 478,1753 480,1741 482,1735 484,1751 486,1738 488,1738 490,1739 492,1739 494,1738 496,1737 498,1741 500,1731 502,1726 504,1714 506,1704 508,1703 510,1710 512,1711 514,1721 516,1725 518,1734 520,1743 522,1750 524,1750 526,1738 528,1752 530,1752 532,1752 534,1764 536,1752 538,1752 540,1752 542,1752 544,1752 546,1752 548,1752 550,1751 552,1751 554,1738 556,1727 558,1708 560,1688 562,1639 564,1592 566,1563 568,1585 570,1637 572,1679 574,1709 576,1727 578,1746 580,1757 582,1756 584,1764 586,1764 588,1764 590,1764 592,1752 594,1752 596,1752 598,1764 600,1764 602,1752 604,1752 606,1752 608,1738 610,1752 612,1752 614,1752 616,1752 618,1752 620,1752 622,1752 624,1752 626,1752 628,1752 630,1752 632,1764 634,1752 636,1751 638,1752 640,1738 642,1738 644,1738 646,1751 648,1751 650,1739 652,1739 654,1752 656,1752 658,1752 660,1752 662,1752 664,1738 666,1752 668,1752 670,1752 672,1752 674,1752 676,1752 678,1764 680,1752 682,1753 684,1757 686,1734 688,1745 690,1729 692,1720 694,1716 696,1707 698,1705 700,1701 702,1686 704,1699 706,1685 708,1692 710,1691 712,1703 714,1702 716,1713 718,1714 720,1714 722,1712 724,1701 726,1702 728,1701 730,1694 732,1682 734,1678 736,1657 738,1662 740,1660 742,1662 744,1662 746,1649 748,1656 750,1645 752,1632 754,1623 756,1595 758,1600 760,1602 762,1601 764,1620 766,1629 768,1659 770,1681 772,1699 774,1712 776,1721 778,1728 780,1737 782,1739 784,1753 786,1753 788,1738 790,1752 792,1752 794,1752 796,1752 798,1764 800,1752 802,1764 804,1752 806,1752 808,1738 810,1752 812,1752 814,1752 816,1752 818,1752 820,1752 822,1752 824,1752 826,1752 828,1752 830,1752 832,1751 834,1750 836,1742 838,1739 840,1737 842,1744 844,1729 846,1721 848,1705 850,1702 852,1702 854,1688 856,1700 858,1698 860,1702 862,1701 864,1714 866,1721 868,1735 870,1746 872,1731 874,1741 876,1741 878,1752 880,1752 882,1752 884,1764 886,1764 888,1752 890,1764 892,1764 894,1752 896,1764 898,1752 900,1752 902,1752 904,1752 906,1752 908,1764 910,1749 912,1750 914,1739 916,1731 918,1718 920,1684 922,1658 924,1644 926,1636 928,1657 930,1693 932,1720 934,1734 936,1747 938,1739 940,1763 942,1752 944,1752 946,1764 948,1752 950,1752 952,1752 954,1751 956,1748 958,1756 960,1739 962,1740 964,1719 966,1715 968,1703 970,1702 972,1691 974,1687 976,1704 978,1716 980,1732 982,1736 984,1743 986,1744 988,1750 990,1752 992,1764 994,1739 996,1741 998,1749 1000,1735 1002,1723 1004,1723 1006,1711 1008,1699 1010,1689 1012,1697 1014,1701 1016,1715 1018,1722 1020,1739 1022,1734 1024,1745 1026,1752 1028,1751 1030,1752 1032,1752 1034,1764 1036,1764 1038,1752 1040,1753 1042,1753 1044,1747 1046,1748 1048,1728 1050,1711 1052,1677 1054,1635 1056,1588 1058,1538 1060,1497 1062,1501 1064,1545 1066,1582 1068,1640 1070,1674 1072,1703 1074,1723 1076,1744 1078,1741 1080,1734 1082,1729 1084,1714 1086,1703 1088,1677 1090,1679 1092,1669 1094,1676 1096,1677 1098,1701 1100,1707 1102,1730 1104,1729 1106,1742 1108,1745 1110,1753 1112,1751 1114,1738 1116,1738 1118,1752 1120,1752 1122,1752 1124,1738 1126,1752 1128,1752 1130,1752 1132,1764 1134,1752 1136,1752 1138,1738 1140,1750 1142,1742 1144,1733 1146,1742 1148,1727 1150,1726 1152,1719 1154,1702 1156,1698 1158,1681 1160,1690 1162,1669 1164,1673 1166,1674 1168,1674 1170,1689 1172,1697 1174,1718 1176,1710 1178,1734 1180,1739 1182,1738 1184,1732 1186,1726 1188,1727 1190,1702 1192,1710 1194,1710 1196,1708 1198,1721 1200,1729 1202,1740 1204,1755 1206,1758 1208,1753 1210,1764 1212,1752 1214,1752 1216,1752 1218,1752 1220,1752 1222,1752 1224,1752 1226,1764 1228,1752 1230,1752 1232,1751 1234,1742 1236,1744 1238,1748 1240,1733 1242,1723 1244,1708 1246,1706 1248,1688 1250,1693 1252,1693 1254,1701 1256,1709 1258,1729 1260,1734 1262,1743 1264,1749 1266,1751 1268,1751 1270,1752 1272,1752 1274,1752 1276,1752 1278,1752 1280,1752 1282,1752 1284,1752 1286,1752 1288,1752 1290,1752 1292,1752 1294,1752 1296,1738 1298,1738 1300,1752 1302,1752 1304,1752 1306,1752 1308,1752 1310,1764 1312,1752 1314,1764 1316,1752 1318,1752 1320,1752 1322,1740 1324,1753 1326,1743 1328,1733 1330,1718 1332,1706 1334,1676 1336,1666 1338,1620 1340,1579 1342,1534 1344,1457 1346,1393 1348,1331 1350,1302 1352,1290 1354,1322 1356,1367 1358,1417 1360,1466 1362,1499 1364,1521 1366,1535 1368,1556 1370,1577 1372,1593 1374,1611 1376,1637 1378,1658 1380,1678 1382,1690 1384,1697 1386,1713 1388,1720 1390,1725 1392,1724 1394,1719 1396,1712 1398,1703 1400,1693 1402,1672 1404,1645 1406,1610 1408,1580 1410,1542 1412,1499 1414,1475 1416,1457 1418,1452 1420,1479 1422,1515 1424,1559 1426,1588 1428,1626 1430,1650 1432,1668 1434,1703 1436,1699 1438,1720 1440,1713 1442,1721 1444,1736 1446,1726 1448,1738 1450,1738 1452,1729 1454,1718 1456,1719 1458,1704 1460,1691 1462,1694 1464,1689 1466,1705 1468,1718 1470,1711 1472,1749 1474,1733 1476,1749 1478,1734 1480,1732 1482,1732 1484,1718 1486,1720 1488,1706 1490,1700 1492,1705 1494,1708 1496,1712 1498,1731 1500,1731 1502,1751 1504,1752 1506,1750 1508,1764 1510,1764 1512,1764 1514,1764 1516,1752 1518,1764 1520,1752 1522,1754 1524,1760 1526,1748 1528,1740 1530,1734 1532,1708 1534,1691 1536,1683 1538,1667 1540,1649 1542,1644 1544,1631 1546,1649 1548,1662 1550,1678 1552,1705 1554,1714 1556,1719 1558,1735 1560,1747 1562,1743 1564,1751 1566,1739 1568,1743 1570,1748 1572,1736 1574,1730 1576,1706 1578,1702 1580,1690 1582,1679 1584,1677 1586,1663 1588,1683 1590,1683 1592,1707 1594,1722 1596,1717 1598,1736 1600,1747 1602,1746 1604,1751 1606,1752 1608,1752 1610,1752 1612,1752 1614,1764 1616,1752 1618,1752 1620,1752 1622,1740 1624,1755 1626,1748 1628,1742 1630,1728 1632,1722 1634,1728 1636,1697 1638,1684 1640,1668 1642,1640 1644,1617 1646,1580 1648,1543 1650,1522 1652,1478 1654,1453 1656,1452 1658,1474 1660,1511 1662,1534 1664,1574 1666,1605 1668,1640 1670,1653 1672,1683 1674,1690 1676,1714 1678,1723 1680,1720 1682,1739 1684,1734 1686,1749 1688,1738 1690,1752 1692,1738 1694,1741 1696,1737 1698,1737 1700,1728 1702,1713 1704,1701 1706,1699 1708,1678 1710,1662 1712,1640 1714,1611 1716,1574 1718,1558 1720,1523 1722,1475 1724,1433 1726,1388 1728,1350 1730,1305 1732,1284 1734,1309 1736,1332 1738,1385 1740,1415 1742,1461 1744,1495 1746,1545 1748,1585 1750,1613 1752,1627 1754,1662 1756,1687 1758,1703 1760,1704 1762,1714 1764,1733 1766,1735 1768,1736 1770,1741 1772,1740 1774,1750 1776,1739 1778,1751 1780,1752 1782,1752 1784,1738 1786,1752 1788,1764 1790,1752 1792,1752 1794,1752 1796,1764 1798,1752 1800,1764 1802,1764 1804,1752 1806,1752 1808,1752 1810,1752 1812,1752 1814,1764 1816,1752 1818,1765 1820,1761 1822,1749 1824,1755 1826,1742 1828,1725 1830,1714 1832,1701 1834,1696 1836,1704 1838,1719 1840,1720 1842,1727 1844,1737 1846,1743 1848,1728 1850,1727 1852,1712 1854,1700 1856,1691 1858,1688 1860,1671 1862,1675 1864,1694 1866,1701 1868,1712 1870,1736 1872,1725 1874,1740 1876,1749 1878,1764 1880,1764 1882,1752 1884,1764 1886,1752 1888,1778 1890,1752 1892,1752 1894,1764 1896,1764 1898,1764 1900,1764 1902,1764 1904,1764 1906,1752 1908,1752 1910,1752 1912,1764 1914,1752 1916,1764 1918,1752 1920,1764 1922,1764 1924,1764 1926,1764 1928,1764 1930,1764 1932,1764 1934,1764 1936,1764 1938,1764 1940,1764 1942,1764 1944,1752 1946,1764 1948,1764 1950,1752 1952,1764 1954,1752 1956,1752 1958,1752 1960,1752 1962,1764 1964,1764 1966,1752 1968,1764 1970,1752 1972,1752 1974,1764 1976,1764 1978,1752 1980,1764 1982,1764 1984,1764 1986,1752 1988,1764 1990,1764 1992,1764 1994,1764 1996,1764 1998,1764 2000,1764 2002,1764 2004,1764 2006,1764 2008,1764 2010,1778 2012,1764 2014,1764 2016,1752 2018,1764 2020,1764 2022,1764 2024,1778 2026,1764 2028,1764 2030,1764 2032,1752 2034,1752 2036,1752 2038,1752 2040,1752 2042,1752 2044,1752 2046,1752 2048,1752 2050,1764 2052,1764 2054,1764 2056,1764 2058,1764 2060,1764 2062,1764 2064,1764 2066,1764 2068,1764 2070,1764 2072,1764 2074,1764 2076,1764 2078,1764 2080,1752 2082,1764 2084,1752 2086,1752 2088,1752 2090,1764 2092,1752 2094,1752 2096,1752 2098,1752 2100,1752 2102,1752 2104,1752 2106,1752 2108,1752 2110,1752 2112,1764 2114,1752 2116,1752 2118,1752 2120,1752 2122,1738 2124,1752 2126,1752 2128,1752 2130,1752 2132,1752 2134,1764 2136,1752 2138,1752 2140,1752 2142,1752 2144,1752 2146,1752 2148,1752 2150,1752 2152,1752 2154,1752 2156,1738 2158,1752 2160,1752 2162,1752 2164,1752 2166,1752 2168,1752 2170,1752 2172,1752 2174,1764 2176,1752 2178,1752 2180,1752 2182,1752 2184,1752 2186,1752 2188,1752 2190,1752 2192,1752 2194,1764 2196,1752 2198,1764 2200,1764 2202,1752 2204,1764 2206,1764 2208,1778 2210,1764 2212,1752 2214,1764 2216,1764 2218,1764 2220,1752 2222,1764 2224,1752 2226,1752 2228,1764 2230,1764 2232,1764 2234,1764 2236,1764 2238,1764 2240,1778 2242,1778 2244,1764 2246,1764 2248,1764 2250,1764 2252,1764 2254,1764 2256,1764 2258,1764 2260,1764 2262,1764 2264,1764 2266,1764 2268,1764 2270,1764 2272,1778 2274,1778 2276,1764 2278,1764 2280,1778 2282,1778 2284,1764 2286,1778 2288,1764 2290,1764 2292,1764 2294,1764 2296,1752 2298,1764 2300,1764 2302,1764 2304,1764 2306,1752 2308,1764 2310,1752 2312,1764 2314,1752 2316,1752 2318,1752 2320,1764 2322,1764 2324,1764 2326,1764 2328,1764 2330,1778 2332,1764 2334,1778 2336,1764 2338,1764 2340,1778 2342,1764 2344,1752 2346,1764 2348,1752 2350,1752 2352,1752 2354,1764" fill="none" stroke="#138A86" stroke-width="10.5" stroke-linejoin="round" stroke-linecap="round"/>
<polyline points="140,1900 142,1900 144,1889 146,1900 148,1901 150,1900 152,1900 154,1914 156,1900 158,1900 160,1900 162,1914 164,1900 166,1900 168,1900 170,1888 172,1900 174,1900 176,1900 178,1914 180,1900 182,1900 184,1901 186,1899 188,1897 190,1889 192,1887 194,1887 196,1879 198,1877 200,1861 202,1857 204,1857 206,1846 208,1835 210,1832 212,1823 214,1823 216,1823 218,1823 220,1823 222,1834 224,1837 226,1844 228,1842 230,1854 232,1860 234,1873 236,1877 238,1877 240,1885 242,1890 244,1892 246,1899 248,1900 250,1901 252,1900 254,1900 256,1900 258,1914 260,1900 262,1900 264,1900 266,1900 268,1900 270,1900 272,1900 274,1914 276,1900 278,1902 280,1898 282,1891 284,1897 286,1896 288,1885 290,1885 292,1878 294,1874 296,1874 298,1875 300,1876 302,1878 304,1885 306,1888 308,1888 310,1888 312,1888 314,1900 316,1888 318,1888 320,1887 322,1888 324,1888 326,1888 328,1887 330,1891 332,1891 334,1899 336,1897 338,1890 340,1900 342,1900 344,1901 346,1914 348,1900 350,1914 352,1914 354,1914 356,1914 358,1914 360,1900 362,1914 364,1914 366,1914 368,1914 370,1900 372,1914 374,1914 376,1914 378,1914 380,1914 382,1914 384,1914 386,1914 388,1914 390,1914 392,1900 394,1913 396,1912 398,1902 400,1901 402,1890 404,1889 406,1888 408,1887 410,1890 412,1890 414,1900 416,1900 418,1900 420,1900 422,1900 424,1888 426,1900 428,1900 430,1900 432,1900 434,1900 436,1900 438,1888 440,1900 442,1900 444,1888 446,1888 448,1888 450,1900 452,1900 454,1900 456,1888 458,1900 460,1900 462,1900 464,1900 466,1900 468,1900 470,1900 472,1900 474,1914 476,1900 478,1914 480,1900 482,1900 484,1901 486,1911 488,1905 490,1912 492,1913 494,1910 496,1902 498,1893 500,1884 502,1872 504,1863 506,1852 508,1850 510,1857 512,1861 514,1877 516,1882 518,1894 520,1905 522,1898 524,1915 526,1900 528,1914 530,1914 532,1914 534,1914 536,1914 538,1914 540,1914 542,1914 544,1914 546,1914 548,1914 550,1911 552,1908 554,1907 556,1896 558,1872 560,1843 562,1799 564,1753 566,1724 568,1750 570,1791 572,1830 574,1860 576,1885 578,1902 580,1902 582,1905 584,1913 586,1914 588,1914 590,1914 592,1914 594,1914 596,1914 598,1900 600,1914 602,1900 604,1914 606,1914 608,1914 610,1914 612,1914 614,1914 616,1914 618,1914 620,1914 622,1914 624,1914 626,1900 628,1914 630,1914 632,1914 634,1900 636,1914 638,1900 640,1900 642,1900 644,1914 646,1900 648,1900 650,1914 652,1914 654,1900 656,1900 658,1900 660,1914 662,1900 664,1900 666,1914 668,1914 670,1914 672,1900 674,1914 676,1900 678,1901 680,1901 682,1901 684,1901 686,1895 688,1887 690,1884 692,1879 694,1866 696,1865 698,1850 700,1855 702,1848 704,1848 706,1848 708,1849 710,1849 712,1860 714,1862 716,1862 718,1862 720,1862 722,1862 724,1862 726,1848 728,1862 730,1862 732,1861 734,1861 736,1848 738,1848 740,1848 742,1848 744,1860 746,1843 748,1844 750,1836 752,1819 754,1816 756,1808 758,1810 760,1811 762,1813 764,1822 766,1829 768,1845 770,1861 772,1871 774,1878 776,1890 778,1894 780,1905 782,1904 784,1902 786,1900 788,1900 790,1914 792,1914 794,1900 796,1914 798,1914 800,1914 802,1914 804,1914 806,1900 808,1914 810,1914 812,1914 814,1900 816,1914 818,1900 820,1914 822,1900 824,1900 826,1914 828,1914 830,1900 832,1900 834,1900 836,1900 838,1914 840,1913 842,1902 844,1899 846,1900 848,1900 850,1899 852,1900 854,1900 856,1900 858,1900 860,1901 862,1902 864,1900 866,1902 868,1901 870,1913 872,1914 874,1900 876,1914 878,1914 880,1914 882,1900 884,1914 886,1914 888,1914 890,1914 892,1914 894,1900 896,1914 898,1900 900,1914 902,1914 904,1900 906,1914 908,1914 910,1901 912,1904 914,1898 916,1898 918,1888 920,1870 922,1856 924,1855 926,1852 928,1863 930,1878 932,1883 934,1900 936,1903 938,1903 940,1900 942,1900 944,1914 946,1900 948,1914 950,1900 952,1900 954,1914 956,1900 958,1901 960,1903 962,1896 964,1895 966,1888 968,1886 970,1876 972,1875 974,1885 976,1880 978,1884 980,1895 982,1898 984,1893 986,1901 988,1901 990,1900 992,1900 994,1900 996,1900 998,1913 1000,1901 1002,1901 1004,1902 1006,1899 1008,1900 1010,1888 1012,1900 1014,1888 1016,1898 1018,1903 1020,1901 1022,1912 1024,1913 1026,1900 1028,1900 1030,1914 1032,1900 1034,1900 1036,1900 1038,1900 1040,1901 1042,1901 1044,1891 1046,1896 1048,1888 1050,1874 1052,1858 1054,1823 1056,1797 1058,1769 1060,1742 1062,1743 1064,1770 1066,1805 1068,1831 1070,1857 1072,1875 1074,1882 1076,1901 1078,1890 1080,1890 1082,1894 1084,1886 1086,1875 1088,1872 1090,1869 1092,1873 1094,1860 1096,1875 1098,1882 1100,1885 1102,1891 1104,1897 1106,1901 1108,1901 1110,1914 1112,1900 1114,1900 1116,1900 1118,1914 1120,1900 1122,1914 1124,1900 1126,1914 1128,1914 1130,1914 1132,1900 1134,1900 1136,1914 1138,1900 1140,1900 1142,1913 1144,1900 1146,1896 1148,1898 1150,1891 1152,1889 1154,1885 1156,1875 1158,1869 1160,1863 1162,1862 1164,1875 1166,1865 1168,1877 1170,1881 1172,1887 1174,1888 1176,1895 1178,1898 1180,1901 1182,1900 1184,1900 1186,1900 1188,1899 1190,1900 1192,1888 1194,1888 1196,1900 1198,1901 1200,1901 1202,1901 1204,1901 1206,1913 1208,1914 1210,1900 1212,1914 1214,1914 1216,1900 1218,1914 1220,1914 1222,1900 1224,1914 1226,1914 1228,1914 1230,1914 1232,1900 1234,1913 1236,1904 1238,1908 1240,1894 1242,1887 1244,1881 1246,1873 1248,1872 1250,1874 1252,1858 1254,1871 1256,1879 1258,1887 1260,1896 1262,1899 1264,1902 1266,1900 1268,1900 1270,1900 1272,1900 1274,1900 1276,1900 1278,1900 1280,1900 1282,1900 1284,1900 1286,1914 1288,1900 1290,1900 1292,1900 1294,1900 1296,1914 1298,1900 1300,1900 1302,1900 1304,1900 1306,1900 1308,1900 1310,1900 1312,1914 1314,1900 1316,1900 1318,1900 1320,1902 1322,1890 1324,1902 1326,1896 1328,1883 1330,1877 1332,1865 1334,1851 1336,1836 1338,1803 1340,1766 1342,1728 1344,1689 1346,1632 1348,1583 1350,1551 1352,1542 1354,1567 1356,1589 1358,1619 1360,1634 1362,1654 1364,1669 1366,1676 1368,1671 1370,1683 1372,1703 1374,1719 1376,1746 1378,1774 1380,1803 1382,1823 1384,1844 1386,1858 1388,1865 1390,1881 1392,1875 1394,1878 1396,1877 1398,1860 1400,1856 1402,1839 1404,1814 1406,1788 1408,1772 1410,1743 1412,1713 1414,1682 1416,1667 1418,1667 1420,1687 1422,1722 1424,1752 1426,1789 1428,1809 1430,1830 1432,1847 1434,1863 1436,1873 1438,1885 1440,1900 1442,1895 1444,1899 1446,1900 1448,1900 1450,1899 1452,1897 1454,1901 1456,1884 1458,1874 1460,1874 1462,1864 1464,1865 1466,1879 1468,1884 1470,1893 1472,1899 1474,1899 1476,1900 1478,1899 1480,1891 1482,1889 1484,1881 1486,1880 1488,1873 1490,1873 1492,1872 1494,1874 1496,1886 1498,1887 1500,1905 1502,1892 1504,1898 1506,1901 1508,1900 1510,1914 1512,1914 1514,1900 1516,1900 1518,1900 1520,1900 1522,1913 1524,1899 1526,1895 1528,1892 1530,1890 1532,1881 1534,1875 1536,1856 1538,1856 1540,1843 1542,1836 1544,1835 1546,1841 1548,1850 1550,1858 1552,1873 1554,1880 1556,1888 1558,1900 1560,1896 1562,1901 1564,1914 1566,1900 1568,1900 1570,1899 1572,1895 1574,1894 1576,1878 1578,1873 1580,1873 1582,1864 1584,1863 1586,1864 1588,1858 1590,1877 1592,1878 1594,1888 1596,1894 1598,1906 1600,1901 1602,1901 1604,1901 1606,1900 1608,1914 1610,1914 1612,1900 1614,1914 1616,1900 1618,1900 1620,1900 1622,1898 1624,1897 1626,1889 1628,1893 1630,1886 1632,1868 1634,1865 1636,1855 1638,1836 1640,1811 1642,1789 1644,1760 1646,1736 1648,1692 1650,1656 1652,1621 1654,1598 1656,1583 1658,1610 1660,1646 1662,1680 1664,1717 1666,1750 1668,1781 1670,1800 1672,1829 1674,1839 1676,1855 1678,1870 1680,1873 1682,1888 1684,1894 1686,1898 1688,1888 1690,1888 1692,1900 1694,1886 1696,1889 1698,1884 1700,1879 1702,1868 1704,1863 1706,1845 1708,1834 1710,1813 1712,1798 1714,1765 1716,1733 1718,1706 1720,1661 1722,1624 1724,1572 1726,1531 1728,1487 1730,1445 1732,1437 1734,1447 1736,1479 1738,1522 1740,1566 1742,1615 1744,1655 1746,1696 1748,1731 1750,1762 1752,1788 1754,1810 1756,1838 1758,1851 1760,1856 1762,1868 1764,1880 1766,1891 1768,1888 1770,1893 1772,1902 1774,1900 1776,1901 1778,1901 1780,1900 1782,1900 1784,1900 1786,1900 1788,1900 1790,1900 1792,1900 1794,1914 1796,1900 1798,1914 1800,1900 1802,1914 1804,1900 1806,1900 1808,1914 1810,1900 1812,1914 1814,1914 1816,1914 1818,1900 1820,1914 1822,1912 1824,1903 1826,1900 1828,1901 1830,1888 1832,1887 1834,1888 1836,1887 1838,1896 1840,1890 1842,1901 1844,1900 1846,1902 1848,1898 1850,1890 1852,1887 1854,1882 1856,1870 1858,1865 1860,1864 1862,1864 1864,1866 1866,1879 1868,1881 1870,1890 1872,1894 1874,1896 1876,1902 1878,1901 1880,1900 1882,1914 1884,1914 1886,1900 1888,1900 1890,1900 1892,1900 1894,1900 1896,1900 1898,1900 1900,1900 1902,1900 1904,1900 1906,1914 1908,1914 1910,1900 1912,1914 1914,1914 1916,1914 1918,1914 1920,1900 1922,1914 1924,1914 1926,1914 1928,1900 1930,1900 1932,1914 1934,1914 1936,1900 1938,1900 1940,1900 1942,1914 1944,1914 1946,1914 1948,1914 1950,1914 1952,1914 1954,1900 1956,1914 1958,1914 1960,1914 1962,1900 1964,1914 1966,1914 1968,1900 1970,1900 1972,1914 1974,1914 1976,1900 1978,1914 1980,1900 1982,1914 1984,1914 1986,1900 1988,1914 1990,1900 1992,1914 1994,1900 1996,1914 1998,1900 2000,1914 2002,1914 2004,1900 2006,1914 2008,1914 2010,1914 2012,1900 2014,1914 2016,1900 2018,1914 2020,1914 2022,1900 2024,1914 2026,1914 2028,1914 2030,1900 2032,1900 2034,1914 2036,1914 2038,1914 2040,1900 2042,1914 2044,1914 2046,1914 2048,1900 2050,1914 2052,1900 2054,1900 2056,1900 2058,1900 2060,1900 2062,1900 2064,1914 2066,1900 2068,1914 2070,1914 2072,1914 2074,1914 2076,1914 2078,1900 2080,1900 2082,1914 2084,1914 2086,1900 2088,1900 2090,1900 2092,1900 2094,1900 2096,1914 2098,1914 2100,1914 2102,1900 2104,1900 2106,1900 2108,1900 2110,1900 2112,1914 2114,1914 2116,1900 2118,1914 2120,1914 2122,1914 2124,1900 2126,1914 2128,1914 2130,1914 2132,1914 2134,1914 2136,1914 2138,1900 2140,1914 2142,1914 2144,1914 2146,1900 2148,1900 2150,1900 2152,1900 2154,1914 2156,1900 2158,1900 2160,1914 2162,1914 2164,1900 2166,1914 2168,1900 2170,1914 2172,1900 2174,1900 2176,1914 2178,1914 2180,1914 2182,1900 2184,1900 2186,1914 2188,1900 2190,1914 2192,1914 2194,1914 2196,1914 2198,1914 2200,1914 2202,1914 2204,1914 2206,1914 2208,1914 2210,1900 2212,1914 2214,1914 2216,1914 2218,1900 2220,1914 2222,1900 2224,1900 2226,1914 2228,1900 2230,1900 2232,1900 2234,1914 2236,1900 2238,1900 2240,1900 2242,1900 2244,1914 2246,1900 2248,1914 2250,1900 2252,1900 2254,1914 2256,1914 2258,1900 2260,1914 2262,1900 2264,1914 2266,1914 2268,1914 2270,1914 2272,1900 2274,1900 2276,1900 2278,1914 2280,1914 2282,1900 2284,1900 2286,1900 2288,1900 2290,1914 2292,1900 2294,1900 2296,1914 2298,1900 2300,1900 2302,1900 2304,1900 2306,1900 2308,1914 2310,1914 2312,1900 2314,1900 2316,1900 2318,1914 2320,1900 2322,1900 2324,1914 2326,1914 2328,1900 2330,1900 2332,1900 2334,1900 2336,1900 2338,1900 2340,1900 2342,1900 2344,1900 2346,1900 2348,1914 2350,1900 2352,1900 2354,1900" fill="none" stroke="#FF70FF" stroke-width="10.5" stroke-linejoin="round" stroke-linecap="round"/>
<path d="M139.8,1962 V41 H2355.7 V1962 Z" fill="none" stroke="#000" stroke-width="5"/>
<rect x="1272" y="37" width="121.5" height="1918.5" fill="rgb(84,104,152)" fill-opacity="0.25"/>
<rect x="1272" y="1948" width="121.5" height="2" fill="#fff" fill-opacity="0.55"/>
<line x1="137.3" y1="1962" x2="2358.2" y2="1962" stroke="#000" stroke-width="5.5"/>
<line x1="269.6" y1="1962" x2="269.6" y2="1986" stroke="#000" stroke-width="5"/>
<line x1="532.7" y1="1962" x2="532.7" y2="1986" stroke="#000" stroke-width="5"/>
<line x1="793.9" y1="1962" x2="793.9" y2="1986" stroke="#000" stroke-width="5"/>
<line x1="1051.8" y1="1962" x2="1051.8" y2="1986" stroke="#000" stroke-width="5"/>
<line x1="1311.8" y1="1962" x2="1311.8" y2="1986" stroke="#000" stroke-width="5"/>
<line x1="1573.3" y1="1962" x2="1573.3" y2="1986" stroke="#000" stroke-width="5"/>
<line x1="1834" y1="1962" x2="1834" y2="1986" stroke="#000" stroke-width="5"/>
<line x1="2097.3" y1="1962" x2="2097.3" y2="1986" stroke="#000" stroke-width="5"/>
<line x1="2355.3" y1="1962" x2="2355.3" y2="1986" stroke="#000" stroke-width="5"/>
<text x="295.9" y="2060.5" font-size="67" text-anchor="middle" fill="#111">400</text>
<text x="556.8" y="2060.5" font-size="67" text-anchor="middle" fill="#111">600</text>
<text x="817.2" y="2060.5" font-size="67" text-anchor="middle" fill="#111">800</text>
<text x="1090" y="2060.5" font-size="67" text-anchor="middle" fill="#111">1000</text>
<text x="1351.1" y="2060.5" font-size="67" text-anchor="middle" fill="#111">1200</text>
<text x="1612.2" y="2060.5" font-size="67" text-anchor="middle" fill="#111">1400</text>
<text x="1873.5" y="2060.5" font-size="67" text-anchor="middle" fill="#111">1600</text>
<text x="2133.8" y="2060.5" font-size="67" text-anchor="middle" fill="#111">1800</text>
<text x="2389.3" y="2060.5" font-size="67" text-anchor="middle" fill="#111">2000</text>
<text x="958" y="2167.3" font-size="73" fill="#111" textLength="416" lengthAdjust="spacingAndGlyphs">Wavenumber</text>
<text x="1401" y="2167.3" font-size="73" fill="#111">(cm<tspan font-size="48" dy="-23">−1</tspan><tspan dy="23" dx="3">)</tspan></text>
<text transform="translate(81,995) rotate(-90)" font-size="66" text-anchor="middle" fill="#111">SERS Intensity</text>
<text x="182" y="137.5" font-size="77" font-weight="bold" fill="#000" filter="url(#sh)">(a)</text>
<text x="2346" y="498" font-size="54" text-anchor="end" fill="#111" filter="url(#sh2)">1.0x10<tspan font-size="37" dy="-18">−6</tspan><tspan dy="18"> mol/L</tspan></text>
<text x="2346" y="703.4" font-size="54" text-anchor="end" fill="#111" filter="url(#sh2)">1.6x10<tspan font-size="37" dy="-18">−6</tspan><tspan dy="18"> mol/L</tspan></text>
<text x="2346" y="871" font-size="54" text-anchor="end" fill="#111" filter="url(#sh2)">2.0x10<tspan font-size="37" dy="-18">−6</tspan><tspan dy="18"> mol/L</tspan></text>
<text x="2346" y="1058.4" font-size="54" text-anchor="end" fill="#111" filter="url(#sh2)">3.0x10<tspan font-size="37" dy="-18">−6</tspan><tspan dy="18"> mol/L</tspan></text>
<text x="2346" y="1239.3" font-size="54" text-anchor="end" fill="#111" filter="url(#sh2)">4.0x10<tspan font-size="37" dy="-18">−6</tspan><tspan dy="18"> mol/L</tspan></text>
<text x="2346" y="1411.7" font-size="54" text-anchor="end" fill="#111" filter="url(#sh2)">9.7x10<tspan font-size="37" dy="-18">−6</tspan><tspan dy="18"> mol/L</tspan></text>
<text x="2346" y="1542.6" font-size="54" text-anchor="end" fill="#111" filter="url(#sh2)">1.7x10<tspan font-size="37" dy="-18">−5</tspan><tspan dy="18"> mol/L</tspan></text>
<text x="2346" y="1692.7" font-size="54" text-anchor="end" fill="#111" filter="url(#sh2)">2.4x10<tspan font-size="37" dy="-18">−5</tspan><tspan dy="18"> mol/L</tspan></text>
<text x="2346" y="1854.4" font-size="54" text-anchor="end" fill="#111" filter="url(#sh2)">3.1x10<tspan font-size="37" dy="-18">−5</tspan><tspan dy="18"> mol/L</tspan></text>
<path d="M198,2956.5 V2246.5 H1163 V2956.5" fill="none" stroke="#000" stroke-width="4"/>
<line x1="193" y1="2956.5" x2="1165" y2="2956.5" stroke="#000" stroke-width="5"/>
<line x1="187" y1="2894.8" x2="198" y2="2894.8" stroke="#000" stroke-width="3"/>
<line x1="192" y1="2830.0" x2="198" y2="2830.0" stroke="#000" stroke-width="3"/>
<line x1="187" y1="2765.2" x2="198" y2="2765.2" stroke="#000" stroke-width="3"/>
<line x1="192" y1="2700.4" x2="198" y2="2700.4" stroke="#000" stroke-width="3"/>
<line x1="187" y1="2635.6" x2="198" y2="2635.6" stroke="#000" stroke-width="3"/>
<line x1="192" y1="2570.8" x2="198" y2="2570.8" stroke="#000" stroke-width="3"/>
<line x1="187" y1="2506.0" x2="198" y2="2506.0" stroke="#000" stroke-width="3"/>
<line x1="192" y1="2441.2" x2="198" y2="2441.2" stroke="#000" stroke-width="3"/>
<line x1="187" y1="2376.4" x2="198" y2="2376.4" stroke="#000" stroke-width="3"/>
<line x1="192" y1="2311.6" x2="198" y2="2311.6" stroke="#000" stroke-width="3"/>
<line x1="187" y1="2246.8" x2="198" y2="2246.8" stroke="#000" stroke-width="3"/>
<text x="178" y="2909.8" font-size="32" text-anchor="end" fill="#222">0.0</text>
<text x="178" y="2780.2" font-size="32" text-anchor="end" fill="#222">5.0x10<tspan font-size="18" dy="-12">4</tspan></text>
<text x="178" y="2650.6" font-size="32" text-anchor="end" fill="#222">1.0x10<tspan font-size="18" dy="-12">5</tspan></text>
<text x="178" y="2521.0" font-size="32" text-anchor="end" fill="#222">1.5x10<tspan font-size="18" dy="-12">5</tspan></text>
<text x="178" y="2391.4" font-size="32" text-anchor="end" fill="#222">2.0x10<tspan font-size="18" dy="-12">5</tspan></text>
<text x="178" y="2261.8" font-size="32" text-anchor="end" fill="#222">2.5x10<tspan font-size="18" dy="-12">5</tspan></text>
<line x1="262.4" y1="2956.5" x2="262.4" y2="2970.5" stroke="#000" stroke-width="3.5"/>
<line x1="390.9" y1="2956.5" x2="390.9" y2="2964.5" stroke="#000" stroke-width="3.5"/>
<line x1="519.4" y1="2956.5" x2="519.4" y2="2970.5" stroke="#000" stroke-width="3.5"/>
<line x1="647.9" y1="2956.5" x2="647.9" y2="2964.5" stroke="#000" stroke-width="3.5"/>
<line x1="776.4" y1="2956.5" x2="776.4" y2="2970.5" stroke="#000" stroke-width="3.5"/>
<line x1="904.9" y1="2956.5" x2="904.9" y2="2964.5" stroke="#000" stroke-width="3.5"/>
<line x1="1033.4" y1="2956.5" x2="1033.4" y2="2970.5" stroke="#000" stroke-width="3.5"/>
<line x1="1161.9" y1="2956.5" x2="1161.9" y2="2964.5" stroke="#000" stroke-width="3.5"/>
<text x="265" y="3010" font-size="32" text-anchor="middle" fill="#222">0.0</text>
<text x="471" y="3010" font-size="32" fill="#222">1.0x10<tspan font-size="20" dy="-14">−5</tspan></text>
<text x="728" y="3010" font-size="32" fill="#222">2.0x10<tspan font-size="20" dy="-14">−5</tspan></text>
<text x="985" y="3010" font-size="32" fill="#222">3.0x10<tspan font-size="20" dy="-14">−5</tspan></text>
<text x="574" y="3066" font-size="36" fill="#222">[MBC] (mol/L)</text>
<text transform="translate(56,2909) rotate(-90)" font-size="36" fill="#222">SERS intensity (1228 cm<tspan font-size="22" dy="-14">−1</tspan><tspan dy="14"> band)</tspan></text>
<text x="236" y="2345" font-size="75" font-weight="bold" fill="#000" filter="url(#sh)">(b)</text>
<circle cx="288.1" cy="2885.5" r="10.5" fill="#C00000"/>
<path d="M303.5,2795.3 V2823.3" stroke="#92D050" stroke-width="4.5" fill="none"/><path d="M295.5,2795.3 h16 M295.5,2823.3 h16" stroke="#92D050" stroke-width="3.5" fill="none"/>
<circle cx="303.5" cy="2809.3" r="10.5" fill="#92D050"/>
<path d="M313.8,2752.0 V2798.6" stroke="#548235" stroke-width="4.5" fill="none"/><path d="M305.8,2752.0 h16 M305.8,2798.6 h16" stroke="#548235" stroke-width="3.5" fill="none"/>
<circle cx="313.8" cy="2775.3" r="10.5" fill="#548235"/>
<path d="M339.5,2706.6 V2748.1" stroke="#0070C0" stroke-width="4.5" fill="none"/><path d="M331.5,2706.6 h16 M331.5,2748.1 h16" stroke="#0070C0" stroke-width="3.5" fill="none"/>
<circle cx="339.5" cy="2727.4" r="10.5" fill="#0070C0"/>
<path d="M365.2,2725.3 V2767.3" stroke="#FFFF1A" stroke-width="4.5" fill="none"/><path d="M357.2,2725.3 h16 M357.2,2767.3 h16" stroke="#FFFF1A" stroke-width="3.5" fill="none"/>
<circle cx="365.2" cy="2746.3" r="10.5" fill="#FFFF1A"/>
<path d="M511.7,2747.8 V2787.8" stroke="#FF0080" stroke-width="4.5" fill="none"/><path d="M503.7,2747.8 h16 M503.7,2787.8 h16" stroke="#FF0080" stroke-width="3.5" fill="none"/>
<circle cx="511.7" cy="2767.8" r="10.5" fill="#FF0080"/>
<path d="M699.3,2746.8 V2787.8" stroke="#FF8000" stroke-width="4.5" fill="none"/><path d="M691.3,2746.8 h16 M691.3,2787.8 h16" stroke="#FF8000" stroke-width="3.5" fill="none"/>
<circle cx="699.3" cy="2767.3" r="10.5" fill="#FF8000"/>
<path d="M879.2,2334.7 V2712.1" stroke="#138A86" stroke-width="4.5" fill="none"/><path d="M871.2,2334.7 h16 M871.2,2712.1 h16" stroke="#138A86" stroke-width="3.5" fill="none"/>
<circle cx="879.2" cy="2523.4" r="10.5" fill="#138A86"/>
<path d="M1059.1,2588.7 V2868.6" stroke="#FF70FF" stroke-width="4.5" fill="none"/><path d="M1051.1,2588.7 h16 M1051.1,2868.6 h16" stroke="#FF70FF" stroke-width="3.5" fill="none"/>
<circle cx="1059.1" cy="2728.7" r="10.5" fill="#FF70FF"/>
<path d="M1405,2965 V2255.5 H2367 V2965" fill="none" stroke="#000" stroke-width="4"/>
<line x1="1401" y1="2965" x2="2369" y2="2965" stroke="#000" stroke-width="5"/>
<line x1="1392" y1="2901.0" x2="1405" y2="2901.0" stroke="#000" stroke-width="3"/>
<line x1="1398" y1="2836.3" x2="1405" y2="2836.3" stroke="#000" stroke-width="3"/>
<line x1="1392" y1="2771.7" x2="1405" y2="2771.7" stroke="#000" stroke-width="3"/>
<line x1="1398" y1="2707.1" x2="1405" y2="2707.1" stroke="#000" stroke-width="3"/>
<line x1="1392" y1="2642.4" x2="1405" y2="2642.4" stroke="#000" stroke-width="3"/>
<line x1="1398" y1="2577.8" x2="1405" y2="2577.8" stroke="#000" stroke-width="3"/>
<line x1="1392" y1="2513.1" x2="1405" y2="2513.1" stroke="#000" stroke-width="3"/>
<line x1="1398" y1="2448.4" x2="1405" y2="2448.4" stroke="#000" stroke-width="3"/>
<line x1="1392" y1="2383.8" x2="1405" y2="2383.8" stroke="#000" stroke-width="3"/>
<line x1="1398" y1="2319.2" x2="1405" y2="2319.2" stroke="#000" stroke-width="3"/>
<line x1="1392" y1="2254.5" x2="1405" y2="2254.5" stroke="#000" stroke-width="3"/>
<text x="1381" y="2915.0" font-size="31.5" text-anchor="end" fill="#2a2a2a">0,0</text>
<text x="1389" y="2785.7" font-size="31.5" text-anchor="end" fill="#2a2a2a">5.0x10<tspan font-size="13" dy="-19">4</tspan></text>
<text x="1389" y="2656.4" font-size="31.5" text-anchor="end" fill="#2a2a2a">1.0x10<tspan font-size="13" dy="-19">5</tspan></text>
<text x="1389" y="2527.1" font-size="31.5" text-anchor="end" fill="#2a2a2a">1.5x10<tspan font-size="13" dy="-19">5</tspan></text>
<text x="1389" y="2397.8" font-size="31.5" text-anchor="end" fill="#2a2a2a">2.0x10<tspan font-size="13" dy="-19">5</tspan></text>
<text x="1389" y="2268.5" font-size="31.5" text-anchor="end" fill="#2a2a2a">2.5x10<tspan font-size="13" dy="-19">5</tspan></text>
<line x1="1403.8" y1="2965" x2="1403.8" y2="2973" stroke="#000" stroke-width="3.5"/>
<line x1="1433.9" y1="2965" x2="1433.9" y2="2973" stroke="#000" stroke-width="3.5"/>
<line x1="1460.5" y1="2965" x2="1460.5" y2="2973" stroke="#000" stroke-width="3.5"/>
<line x1="1484.3" y1="2965" x2="1484.3" y2="2979" stroke="#000" stroke-width="3.5"/>
<line x1="1640.8" y1="2965" x2="1640.8" y2="2973" stroke="#000" stroke-width="3.5"/>
<line x1="1732.4" y1="2965" x2="1732.4" y2="2973" stroke="#000" stroke-width="3.5"/>
<line x1="1797.4" y1="2965" x2="1797.4" y2="2973" stroke="#000" stroke-width="3.5"/>
<line x1="1847.8" y1="2965" x2="1847.8" y2="2973" stroke="#000" stroke-width="3.5"/>
<line x1="1888.9" y1="2965" x2="1888.9" y2="2973" stroke="#000" stroke-width="3.5"/>
<line x1="1923.8" y1="2965" x2="1923.8" y2="2973" stroke="#000" stroke-width="3.5"/>
<line x1="1953.9" y1="2965" x2="1953.9" y2="2973" stroke="#000" stroke-width="3.5"/>
<line x1="1980.5" y1="2965" x2="1980.5" y2="2973" stroke="#000" stroke-width="3.5"/>
<line x1="2004.3" y1="2965" x2="2004.3" y2="2979" stroke="#000" stroke-width="3.5"/>
<line x1="2160.8" y1="2965" x2="2160.8" y2="2973" stroke="#000" stroke-width="3.5"/>
<line x1="2252.4" y1="2965" x2="2252.4" y2="2973" stroke="#000" stroke-width="3.5"/>
<line x1="2317.4" y1="2965" x2="2317.4" y2="2973" stroke="#000" stroke-width="3.5"/>
<line x1="2367.8" y1="2965" x2="2367.8" y2="2973" stroke="#000" stroke-width="3.5"/>
<text x="1465" y="3020.6" font-size="30" fill="#222">10<tspan font-size="19" dy="-13">−6</tspan></text>
<text x="1984" y="3020.6" font-size="30" fill="#222">10<tspan font-size="19" dy="-13">−5</tspan></text>
<text x="1781" y="3072.8" font-size="36" fill="#222">[MBC] (mol/L)</text>
<text transform="translate(1271,2922) rotate(-90)" font-size="36" fill="#222">SERS intensity (1228 cm<tspan font-size="22" dy="-14">−1</tspan><tspan dy="14"> band)</tspan></text>
<text x="1417" y="2326" font-size="74" font-weight="bold" fill="#000" filter="url(#sh)">(c)</text>
<circle cx="1484.3" cy="2891.7" r="10" fill="#C00000"/>
<path d="M1590.4,2801.7 V2829.6" stroke="#92D050" stroke-width="4.5" fill="none"/><path d="M1583.4,2801.7 h14 M1583.4,2829.6 h14" stroke="#92D050" stroke-width="3.5" fill="none"/>
<circle cx="1590.4" cy="2815.7" r="10" fill="#92D050"/>
<path d="M1640.8,2758.5 V2805.1" stroke="#548235" stroke-width="4.5" fill="none"/><path d="M1633.8,2758.5 h14 M1633.8,2805.1 h14" stroke="#548235" stroke-width="3.5" fill="none"/>
<circle cx="1640.8" cy="2781.8" r="10" fill="#548235"/>
<path d="M1732.4,2713.3 V2754.6" stroke="#0070C0" stroke-width="4.5" fill="none"/><path d="M1725.4,2713.3 h14 M1725.4,2754.6 h14" stroke="#0070C0" stroke-width="3.5" fill="none"/>
<circle cx="1732.4" cy="2733.9" r="10" fill="#0070C0"/>
<path d="M1797.4,2731.9 V2773.8" stroke="#FFFF1A" stroke-width="4.5" fill="none"/><path d="M1790.4,2731.9 h14 M1790.4,2773.8 h14" stroke="#FFFF1A" stroke-width="3.5" fill="none"/>
<circle cx="1797.4" cy="2752.8" r="10" fill="#FFFF1A"/>
<path d="M1997.4,2754.4 V2794.2" stroke="#FF0080" stroke-width="4.5" fill="none"/><path d="M1990.4,2754.4 h14 M1990.4,2794.2 h14" stroke="#FF0080" stroke-width="3.5" fill="none"/>
<circle cx="1997.4" cy="2774.3" r="10" fill="#FF0080"/>
<path d="M2124.1,2753.3 V2794.2" stroke="#FF8000" stroke-width="4.5" fill="none"/><path d="M2117.1,2753.3 h14 M2117.1,2794.2 h14" stroke="#FF8000" stroke-width="3.5" fill="none"/>
<circle cx="2124.1" cy="2773.8" r="10" fill="#FF8000"/>
<path d="M2202.0,2342.2 V2718.7" stroke="#138A86" stroke-width="4.5" fill="none"/><path d="M2195.0,2342.2 h14 M2195.0,2718.7 h14" stroke="#138A86" stroke-width="3.5" fill="none"/>
<circle cx="2202.0" cy="2530.4" r="10" fill="#138A86"/>
<path d="M2259.8,2595.6 V2874.9" stroke="#FF70FF" stroke-width="4.5" fill="none"/><path d="M2252.8,2595.6 h14 M2252.8,2874.9 h14" stroke="#FF70FF" stroke-width="3.5" fill="none"/>
<circle cx="2259.8" cy="2735.2" r="10" fill="#FF70FF"/>
</svg>
</body></html>
